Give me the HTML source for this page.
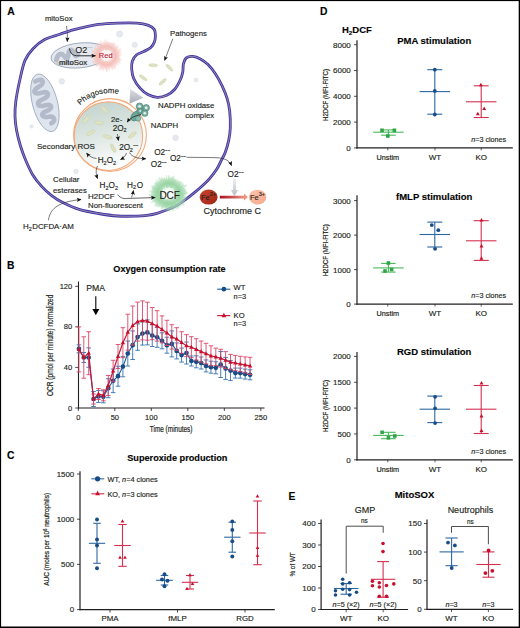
<!DOCTYPE html>
<html><head><meta charset="utf-8"><title>Figure</title>
<style>
html,body{margin:0;padding:0;background:#fff;}
svg{display:block;}
svg text{font-family:"Liberation Sans",sans-serif;stroke:#231f20;stroke-width:0.15px;}
svg text.r{stroke-width:0.2px;}
</style></head>
<body>
<svg width="520" height="628" viewBox="0 0 520 628" style="font-family:'Liberation Sans',sans-serif">
<defs>
<radialGradient id="redglow" cx="50%" cy="50%" r="50%">
 <stop offset="0" stop-color="#ffffff"/><stop offset="0.35" stop-color="#fdf4f3"/><stop offset="0.62" stop-color="#f8d0cb"/><stop offset="0.85" stop-color="#fae0dd" stop-opacity="0.55"/><stop offset="1" stop-color="#fbe3e1" stop-opacity="0"/>
</radialGradient>
<radialGradient id="greenglow" cx="50%" cy="50%" r="50%">
 <stop offset="0" stop-color="#ffffff"/><stop offset="0.3" stop-color="#f2faf3"/><stop offset="0.6" stop-color="#b9e3c0"/><stop offset="0.85" stop-color="#c8eacd" stop-opacity="0.6"/><stop offset="1" stop-color="#e0f3e3" stop-opacity="0"/>
</radialGradient>
<linearGradient id="phago" x1="0.35" y1="0" x2="0.6" y2="1">
 <stop offset="0" stop-color="#c4d4ce"/><stop offset="0.5" stop-color="#dfe8e4"/><stop offset="0.85" stop-color="#f6f9f8"/><stop offset="1" stop-color="#ffffff"/>
</linearGradient>
<linearGradient id="fe2" x1="0" y1="0" x2="1" y2="1">
 <stop offset="0" stop-color="#c8452e"/><stop offset="1" stop-color="#9e2416"/>
</linearGradient>
<linearGradient id="fe3" x1="0" y1="0" x2="1" y2="1">
 <stop offset="0" stop-color="#fbc4ad"/><stop offset="1" stop-color="#f5a88c"/>
</linearGradient>
<linearGradient id="redarrow" x1="0" y1="0" x2="1" y2="0">
 <stop offset="0" stop-color="#a8101e"/><stop offset="1" stop-color="#f7a48c"/>
</linearGradient>
<linearGradient id="grayarrow" x1="0" y1="0" x2="0" y2="1">
 <stop offset="0" stop-color="#f0f0f2"/><stop offset="1" stop-color="#b8bcc4"/>
</linearGradient>
<linearGradient id="funnel" x1="0" y1="0" x2="0" y2="1">
 <stop offset="0" stop-color="#dcdee4"/><stop offset="1" stop-color="#a9adb8"/>
</linearGradient>
<marker id="ah" viewBox="0 0 10 10" refX="9" refY="5" markerUnits="userSpaceOnUse" markerWidth="5.4" markerHeight="4.6" orient="auto-start-reverse">
 <path d="M0 0.5L10 5L0 9.5L2 5Z" fill="#111"/>
</marker>
</defs>
<rect x="0" y="0" width="520" height="628" fill="#fff"/>
<text x="7.20" y="14.80" font-size="10.3" text-anchor="start" font-weight="bold" fill="#000"  style="">A</text>
<circle cx="119.6" cy="34" r="3.1" fill="#e6e9ef" stroke="#d6dae2" stroke-width="0.5"/>
<circle cx="134.7" cy="44.8" r="2.6" fill="#e6e9ef" stroke="#d6dae2" stroke-width="0.5"/>
<circle cx="61.8" cy="81.3" r="2.8" fill="#e6e9ef" stroke="#d6dae2" stroke-width="0.5"/>
<circle cx="31.6" cy="126.5" r="1.8" fill="#e6e9ef" stroke="#d6dae2" stroke-width="0.5"/>
<circle cx="195.9" cy="80" r="2" fill="#e6e9ef" stroke="#d6dae2" stroke-width="0.5"/>
<circle cx="175.6" cy="137.8" r="2.8" fill="#e6e9ef" stroke="#d6dae2" stroke-width="0.5"/>
<circle cx="76" cy="171.5" r="2.3" fill="#e6e9ef" stroke="#d6dae2" stroke-width="0.5"/>
<g transform="translate(44.9 102.8) rotate(-14.7)"><ellipse cx="0" cy="0" rx="12.5" ry="29.6" fill="#dfe5ee" stroke="#8d9bb2" stroke-width="0.7"/><path d="M-4 -23 C5 -25 6 -19 -2 -17 C-10 -15 -9 -10 0 -10.5 C7 -11 7 -5 -1 -4 C-9 -3 -9 3 0 2.5 C7 2 7 8 -1 8.5 C-8 9 -7 14 0 14.5 C6 15 6.5 20 1 21.5" fill="none" stroke="#b3bbcb" stroke-width="4.6" stroke-linecap="round"/></g>
<g transform="translate(80 55.4) rotate(-6)"><ellipse cx="0" cy="0" rx="29" ry="12.4" fill="#e6eaf0" stroke="#7f8ea6" stroke-width="0.7"/><path d="M-24 2 C-22 -4 -18 -5 -16 -1 C-14 3 -12.5 3 -11.5 -2 C-10.5 -7 -7.5 -8 -6 -3 C-5 0 -4 1 -2 -1" fill="none" stroke="#b5bdcc" stroke-width="4.8" stroke-linecap="round"/><path d="M-23 6 L-8 6.5" fill="none" stroke="#c3c9d5" stroke-width="3.5" stroke-linecap="round"/></g>
<circle cx="106.5" cy="55.6" r="15" fill="url(#redglow)"/>
<path d="M112.59 55.64L120.16 55.70M112.73 56.07L118.76 56.52M113.13 56.36L119.58 57.11M113.38 56.84L120.39 58.10M112.26 57.09L120.90 59.33M112.51 57.39L121.74 60.15M112.57 57.87L120.57 60.87M112.50 58.15L119.99 61.33M111.02 57.87L120.70 62.74M112.06 58.84L120.28 63.64M112.18 59.42L117.93 63.30M111.18 59.18L119.38 65.44M110.43 58.99L116.05 63.84M111.58 60.32L116.73 65.11M110.33 59.69L116.26 66.03M110.18 59.95L115.95 66.77M110.56 61.06L115.49 67.69M110.13 61.24L115.41 69.44M109.16 60.22L114.42 69.36M109.50 61.71L112.92 68.67M108.65 60.58L112.73 70.06M108.43 60.82L110.76 67.12M108.49 62.29L110.03 67.49M107.84 61.26L109.43 67.94M107.74 62.02L109.53 71.24M107.38 61.77L108.22 67.68M106.86 61.25L107.52 71.53M106.49 61.61L106.49 72.09M106.30 60.75L105.94 70.29M106.03 60.97L105.30 69.38M105.65 60.84L104.54 67.63M105.24 61.08L102.85 71.50M104.89 61.13L102.56 69.11M104.46 61.55L101.75 69.49M104.14 61.38L100.36 70.63M103.98 60.89L99.96 69.37M103.85 60.54L98.74 70.05M103.27 60.77L100.12 65.82M102.96 60.64L99.55 65.49M102.58 60.49L98.83 65.18M102.53 60.01L96.43 66.79M101.98 60.15L95.71 66.47M102.72 59.06L95.41 65.76M102.14 58.96L95.37 64.18M101.88 58.83L95.33 63.42M101.64 58.66L94.08 63.42M101.46 58.38L92.96 63.09M100.99 58.30L92.76 62.34M101.46 57.67L92.06 61.55M101.42 57.37L93.32 60.20M101.48 56.96L93.52 59.12M99.99 57.04L92.86 58.63M101.22 56.38L93.13 57.56M99.76 56.24L92.53 56.93M101.26 55.86L92.13 56.32M99.89 55.56L90.73 55.51M100.95 55.25L90.90 54.62M99.95 54.72L93.07 53.80M101.00 54.63L91.17 52.88M100.97 54.27L93.01 52.35M100.94 53.89L91.07 50.86M101.79 53.89L91.23 50.07M100.15 52.72L93.79 49.83M100.44 52.40L95.00 49.53M100.76 52.19L93.62 47.94M101.85 52.51L95.23 48.11M102.37 52.55L94.71 46.91M101.41 51.37L97.12 47.79M101.91 51.16L94.90 44.36M101.89 50.60L96.61 44.86M102.25 50.69L98.14 45.94M102.68 50.56L97.83 44.15M102.69 49.87L98.32 43.32M103.71 50.86L98.44 41.92M103.52 49.75L100.33 43.50M104.01 50.06L100.07 41.30M104.14 49.45L100.72 40.52M104.60 49.23L103.06 44.07M104.91 49.06L103.62 43.72M105.44 50.16L103.76 41.49M105.73 49.70L104.49 40.24M106.06 50.51L105.42 43.08M106.37 50.46L106.09 39.22M106.78 50.44L107.27 41.36M107.03 50.00L107.79 42.08M107.50 49.51L108.70 42.16M107.66 50.06L109.06 43.31M108.24 49.41L110.21 42.40M108.17 50.51L110.76 42.60M108.99 49.53L111.71 42.92M109.23 49.98L112.59 43.06M109.36 50.33L113.73 42.27M109.87 50.17L113.92 43.64M109.96 50.61L115.13 43.18M110.08 50.98L115.02 44.60M111.14 50.53L115.73 45.50M111.21 51.01L115.94 46.40M110.41 52.11L118.18 45.17M111.83 51.42L118.74 45.99M111.81 51.90L118.43 47.29M111.71 52.28L116.63 49.13M112.22 52.40L117.15 49.65M111.17 53.32L120.84 48.60M111.16 53.66L121.07 49.53M112.81 53.38L120.68 50.60M113.17 53.82L120.61 51.84M111.47 54.57L121.63 52.46M112.85 54.60L118.83 53.66M113.34 54.97L118.72 54.48M112.62 55.31L122.21 54.85" stroke="#f09a92" stroke-width="0.45" opacity="0.5"/>
<text x="45.00" y="21.40" font-size="7.6" text-anchor="start" font-weight="normal" fill="#231f20"  style="">mitoSox</text>
<path d="M66.5 26 C67.5 32 67.5 36 67.3 41.5" fill="none" stroke="#231f20" stroke-width="0.6" marker-end="url(#ah)"/>
<path d="M69.5 48.5 C70.5 54 73 55.8 78 55.8 L95.5 55.8" fill="none" stroke="#231f20" stroke-width="0.9" marker-end="url(#ah)"/>
<text x="75.30" y="52.70" font-size="9" text-anchor="start" font-weight="normal" fill="#231f20"  style="">O2</text>
<text x="87.50" y="48.60" font-size="4.2" text-anchor="start" font-weight="normal" fill="#777"  style="">&#8722;&#8722;</text>
<text x="98.80" y="58.10" font-size="7.5" text-anchor="start" font-weight="normal" fill="#c8243c"  style="stroke:#c8243c">Red</text>
<text x="59.00" y="65.20" font-size="7.8" text-anchor="start" font-weight="normal" fill="#231f20"  style="">mitoSox</text>
<ellipse cx="153.3" cy="65.3" rx="4.5" ry="1.5" transform="rotate(3 153.3 65.3)" fill="#dde3c2" stroke="#c9d1a8" stroke-width="0.5"/>
<ellipse cx="169.4" cy="67.7" rx="4.5" ry="1.5" transform="rotate(45 169.4 67.7)" fill="#dde3c2" stroke="#c9d1a8" stroke-width="0.5"/>
<ellipse cx="143.2" cy="77.8" rx="4.5" ry="1.5" transform="rotate(35 143.2 77.8)" fill="#dde3c2" stroke="#c9d1a8" stroke-width="0.5"/>
<ellipse cx="162.7" cy="81.8" rx="4.5" ry="1.5" transform="rotate(-40 162.7 81.8)" fill="#dde3c2" stroke="#c9d1a8" stroke-width="0.5"/>
<text x="170.00" y="36.00" font-size="7.7" text-anchor="start" font-weight="normal" fill="#231f20"  style="">Pathogens</text>
<path d="M172.8 38.8 L164.6 60.4" fill="none" stroke="#231f20" stroke-width="0.6" marker-end="url(#ah)"/>
<path d="M15.00 116.00C14.88 111.23 15.00 107.50 15.80 101.50C16.60 95.50 18.27 86.85 19.80 80.00C21.33 73.15 22.80 65.60 25.00 60.40C27.20 55.20 29.73 52.27 33.00 48.80C36.27 45.33 40.10 42.03 44.60 39.60C49.10 37.17 55.77 35.67 60.00 34.20C64.23 32.73 66.80 31.78 70.00 30.80C73.20 29.82 74.45 29.37 79.20 28.30C83.95 27.23 92.08 25.27 98.50 24.40C104.92 23.53 111.30 23.32 117.70 23.10C124.10 22.88 131.77 22.72 136.90 23.10C142.03 23.48 145.62 24.35 148.50 25.40C151.38 26.45 153.05 27.73 154.20 29.40C155.35 31.07 155.37 33.28 155.40 35.40C155.43 37.52 155.17 40.08 154.40 42.10C153.63 44.12 152.57 45.93 150.80 47.50C149.03 49.07 146.20 50.25 143.80 51.50C141.40 52.75 138.30 53.42 136.40 55.00C134.50 56.58 133.18 58.67 132.40 61.00C131.62 63.33 131.48 66.08 131.70 69.00C131.92 71.92 132.35 75.35 133.70 78.50C135.05 81.65 137.43 85.22 139.80 87.90C142.17 90.58 144.98 93.03 147.90 94.60C150.82 96.17 154.17 97.18 157.30 97.30C160.43 97.42 163.78 96.65 166.70 95.30C169.62 93.95 172.55 91.75 174.80 89.20C177.05 86.65 178.87 82.87 180.20 80.00C181.53 77.13 182.27 74.67 182.80 72.00C183.33 69.33 182.80 66.37 183.40 64.00C184.00 61.63 184.85 59.07 186.40 57.80C187.95 56.53 190.37 56.22 192.70 56.40C195.03 56.58 197.85 57.53 200.40 58.90C202.95 60.27 205.45 62.05 208.00 64.60C210.55 67.15 213.37 70.68 215.70 74.20C218.03 77.72 220.10 81.67 222.00 85.70C223.90 89.73 225.82 94.17 227.10 98.40C228.38 102.63 229.17 106.17 229.70 111.10C230.23 116.03 230.47 123.12 230.30 128.00C230.13 132.88 229.53 136.35 228.70 140.40C227.87 144.45 226.53 148.97 225.30 152.30C224.07 155.63 222.77 157.52 221.30 160.40C219.83 163.28 218.42 166.62 216.50 169.60C214.58 172.58 212.20 175.57 209.80 178.30C207.40 181.03 204.67 183.60 202.10 186.00C199.53 188.40 197.12 190.47 194.40 192.70C191.68 194.93 188.70 197.32 185.80 199.40C182.90 201.48 180.13 203.47 177.00 205.20C173.87 206.93 170.33 208.45 167.00 209.80C163.67 211.15 160.33 212.38 157.00 213.30C153.67 214.22 150.35 214.83 147.00 215.30C143.65 215.77 141.78 215.98 136.90 216.10C132.02 216.22 124.10 216.43 117.70 216.00C111.30 215.57 104.92 214.60 98.50 213.50C92.08 212.40 85.23 211.27 79.20 209.40C73.17 207.53 66.88 204.60 62.30 202.30C57.72 200.00 55.07 198.17 51.70 195.60C48.33 193.03 45.30 190.43 42.10 186.90C38.90 183.37 35.22 178.80 32.50 174.40C29.78 170.00 27.80 165.23 25.80 160.50C23.80 155.77 22.05 151.07 20.50 146.00C18.95 140.93 17.42 135.10 16.50 130.10C15.58 125.10 15.12 120.77 15.00 116.00Z" fill="none" stroke="#3a38a6" stroke-width="2.8"/>
<path d="M15.00 116.00C14.88 111.23 15.00 107.50 15.80 101.50C16.60 95.50 18.27 86.85 19.80 80.00C21.33 73.15 22.80 65.60 25.00 60.40C27.20 55.20 29.73 52.27 33.00 48.80C36.27 45.33 40.10 42.03 44.60 39.60C49.10 37.17 55.77 35.67 60.00 34.20C64.23 32.73 66.80 31.78 70.00 30.80C73.20 29.82 74.45 29.37 79.20 28.30C83.95 27.23 92.08 25.27 98.50 24.40C104.92 23.53 111.30 23.32 117.70 23.10C124.10 22.88 131.77 22.72 136.90 23.10C142.03 23.48 145.62 24.35 148.50 25.40C151.38 26.45 153.05 27.73 154.20 29.40C155.35 31.07 155.37 33.28 155.40 35.40C155.43 37.52 155.17 40.08 154.40 42.10C153.63 44.12 152.57 45.93 150.80 47.50C149.03 49.07 146.20 50.25 143.80 51.50C141.40 52.75 138.30 53.42 136.40 55.00C134.50 56.58 133.18 58.67 132.40 61.00C131.62 63.33 131.48 66.08 131.70 69.00C131.92 71.92 132.35 75.35 133.70 78.50C135.05 81.65 137.43 85.22 139.80 87.90C142.17 90.58 144.98 93.03 147.90 94.60C150.82 96.17 154.17 97.18 157.30 97.30C160.43 97.42 163.78 96.65 166.70 95.30C169.62 93.95 172.55 91.75 174.80 89.20C177.05 86.65 178.87 82.87 180.20 80.00C181.53 77.13 182.27 74.67 182.80 72.00C183.33 69.33 182.80 66.37 183.40 64.00C184.00 61.63 184.85 59.07 186.40 57.80C187.95 56.53 190.37 56.22 192.70 56.40C195.03 56.58 197.85 57.53 200.40 58.90C202.95 60.27 205.45 62.05 208.00 64.60C210.55 67.15 213.37 70.68 215.70 74.20C218.03 77.72 220.10 81.67 222.00 85.70C223.90 89.73 225.82 94.17 227.10 98.40C228.38 102.63 229.17 106.17 229.70 111.10C230.23 116.03 230.47 123.12 230.30 128.00C230.13 132.88 229.53 136.35 228.70 140.40C227.87 144.45 226.53 148.97 225.30 152.30C224.07 155.63 222.77 157.52 221.30 160.40C219.83 163.28 218.42 166.62 216.50 169.60C214.58 172.58 212.20 175.57 209.80 178.30C207.40 181.03 204.67 183.60 202.10 186.00C199.53 188.40 197.12 190.47 194.40 192.70C191.68 194.93 188.70 197.32 185.80 199.40C182.90 201.48 180.13 203.47 177.00 205.20C173.87 206.93 170.33 208.45 167.00 209.80C163.67 211.15 160.33 212.38 157.00 213.30C153.67 214.22 150.35 214.83 147.00 215.30C143.65 215.77 141.78 215.98 136.90 216.10C132.02 216.22 124.10 216.43 117.70 216.00C111.30 215.57 104.92 214.60 98.50 213.50C92.08 212.40 85.23 211.27 79.20 209.40C73.17 207.53 66.88 204.60 62.30 202.30C57.72 200.00 55.07 198.17 51.70 195.60C48.33 193.03 45.30 190.43 42.10 186.90C38.90 183.37 35.22 178.80 32.50 174.40C29.78 170.00 27.80 165.23 25.80 160.50C23.80 155.77 22.05 151.07 20.50 146.00C18.95 140.93 17.42 135.10 16.50 130.10C15.58 125.10 15.12 120.77 15.00 116.00Z" fill="none" stroke="#d9a9b0" stroke-width="0.65"/>
<path d="M130.2 89.1 L143.4 97.7 L129.5 103.8 Z" fill="url(#funnel)"/>
<circle cx="108.4" cy="136.2" r="34.3" fill="url(#phago)"/>
<circle cx="110" cy="135" r="36.4" fill="none" stroke="#f3a878" stroke-width="1.05"/>
<circle cx="108.4" cy="136.2" r="34.3" fill="none" stroke="#f3a878" stroke-width="1.05"/>
<ellipse cx="104.6" cy="109.6" rx="4.75" ry="1.7" transform="rotate(50 104.6 109.6)" fill="#dde3c2" stroke="#c9d1a8" stroke-width="0.5"/>
<ellipse cx="86.2" cy="119.6" rx="4.75" ry="1.7" transform="rotate(-45 86.2 119.6)" fill="#dde3c2" stroke="#c9d1a8" stroke-width="0.5"/>
<ellipse cx="99.2" cy="122.7" rx="4.75" ry="1.7" transform="rotate(5 99.2 122.7)" fill="#dde3c2" stroke="#c9d1a8" stroke-width="0.5"/>
<ellipse cx="90.8" cy="132.7" rx="4.75" ry="1.7" transform="rotate(-30 90.8 132.7)" fill="#dde3c2" stroke="#c9d1a8" stroke-width="0.5"/>
<ellipse cx="107.7" cy="136.8" rx="4.75" ry="1.7" transform="rotate(15 107.7 136.8)" fill="#dde3c2" stroke="#c9d1a8" stroke-width="0.5"/>
<ellipse cx="132.3" cy="135" rx="4.75" ry="1.7" transform="rotate(-35 132.3 135)" fill="#dde3c2" stroke="#c9d1a8" stroke-width="0.5"/>
<ellipse cx="113.1" cy="148.1" rx="4.75" ry="1.7" transform="rotate(62 113.1 148.1)" fill="#dde3c2" stroke="#c9d1a8" stroke-width="0.5"/>
<path id="phArc" d="M80.1 105.3 A 41.8 41.8 0 0 1 131 99" fill="none"/>
<text font-size="7.8" fill="#231f20"><textPath href="#phArc">Phagosome</textPath></text>
<g><ellipse cx="135.5" cy="116" rx="3.8" ry="5.6" transform="rotate(42 135.5 116)" fill="#6fa597" stroke="#3f7d6e" stroke-width="0.6"/><circle cx="138.2" cy="118.6" r="2.6" fill="#8dbcb0" stroke="#3f7d6e" stroke-width="0.5"/><circle cx="139.6" cy="106.4" r="3.4" fill="#7bb0a3" stroke="#3f7d6e" stroke-width="0.6"/><circle cx="146.2" cy="107.8" r="3.3" fill="#7bb0a3" stroke="#3f7d6e" stroke-width="0.6"/><circle cx="140.2" cy="111" r="3.2" fill="#6fa597" stroke="#3f7d6e" stroke-width="0.6"/><circle cx="144.8" cy="113.2" r="3.2" fill="#7bb0a3" stroke="#3f7d6e" stroke-width="0.6"/><circle cx="139.6" cy="106.4" r="1.4" fill="#e6f0ee"/><circle cx="146.2" cy="107.8" r="1.4" fill="#e6f0ee"/><circle cx="144.8" cy="113.2" r="1.3" fill="#e6f0ee"/><circle cx="140.2" cy="111" r="1.1" fill="#d0e4df"/></g>
<path d="M141 114.5 C135 115.5 130 118 127.2 122" fill="none" stroke="#231f20" stroke-width="0.7" marker-end="url(#ah)"/>
<text x="158.00" y="108.40" font-size="7.8" text-anchor="start" font-weight="normal" fill="#231f20"  style="">NADPH oxidase</text>
<text x="214.20" y="118.40" font-size="7.8" text-anchor="end" font-weight="normal" fill="#231f20"  style="">complex</text>
<text x="150.80" y="128.10" font-size="7.8" text-anchor="start" font-weight="normal" fill="#231f20"  style="">NADPH</text>
<text x="111.00" y="122.20" font-size="7.8" text-anchor="start" font-weight="normal" fill="#231f20"  style="">2e-</text>
<text x="112.70" y="130.60" font-size="8.2" text-anchor="start" font-weight="normal" fill="#231f20"  style="">2O</text>
<text x="123.40" y="131.90" font-size="5.4" text-anchor="start" font-weight="normal" fill="#231f20"  style="">2</text>
<path d="M117.4 134 L118.4 140.5" fill="none" stroke="#231f20" stroke-width="0.6" marker-end="url(#ah)"/>
<text x="119.20" y="150.20" font-size="8.2" text-anchor="start" font-weight="normal" fill="#231f20"  style="">2O</text>
<text x="129.80" y="151.50" font-size="5.4" text-anchor="start" font-weight="normal" fill="#231f20"  style="">2</text>
<text x="133.20" y="146.80" font-size="4.5" text-anchor="start" font-weight="normal" fill="#231f20"  style="">&#8722;&#8722;</text>
<path d="M126.5 153 C125.5 156 123.5 158 120.5 159.5" fill="none" stroke="#231f20" stroke-width="0.6" marker-end="url(#ah)"/>
<path d="M129.5 152.5 C132 157 137 158.5 145.8 158.8" fill="none" stroke="#231f20" stroke-width="0.6" marker-end="url(#ah)"/>
<text x="97.70" y="163.30" font-size="8.2" text-anchor="start" font-weight="normal" fill="#231f20"  style="">H</text>
<text x="103.60" y="164.90" font-size="5.576" text-anchor="start" font-weight="normal" fill="#231f20"  style="">2</text>
<text x="106.72" y="163.30" font-size="8.2" text-anchor="start" font-weight="normal" fill="#231f20"  style="">O</text>
<text x="113.12" y="164.90" font-size="5.576" text-anchor="start" font-weight="normal" fill="#231f20"  style="">2</text>
<text x="37.00" y="149.20" font-size="8.0" text-anchor="start" font-weight="normal" fill="#231f20"  style="">Secondary ROS</text>
<path d="M96.5 158.5 C92 158 89 156 86.6 153" fill="none" stroke="#231f20" stroke-width="0.6" marker-end="url(#ah)"/>
<path d="M97.5 166 C95.5 170 96 174 97.5 178.5" fill="none" stroke="#231f20" stroke-width="0.6" marker-end="url(#ah)"/>
<text x="154.20" y="155.00" font-size="8.2" text-anchor="start" font-weight="normal" fill="#231f20"  style="">O2</text>
<text x="165.11" y="152.00" font-size="4.51" text-anchor="start" font-weight="normal" fill="#231f20"  style="">&#8722;&#8722;</text>
<text x="150.80" y="166.60" font-size="8.2" text-anchor="start" font-weight="normal" fill="#231f20"  style="">O2</text>
<text x="161.71" y="163.60" font-size="4.51" text-anchor="start" font-weight="normal" fill="#231f20"  style="">&#8722;&#8722;</text>
<text x="170.00" y="160.80" font-size="8.2" text-anchor="start" font-weight="normal" fill="#231f20"  style="">O2</text>
<text x="180.91" y="157.80" font-size="4.51" text-anchor="start" font-weight="normal" fill="#231f20"  style="">&#8722;&#8722;</text>
<path d="M186.5 157.3 L214 157.6 C222 157.8 229 159 231.5 165.5" fill="none" stroke="#231f20" stroke-width="0.6" marker-end="url(#ah)"/>
<text x="227.60" y="176.60" font-size="8.2" text-anchor="start" font-weight="normal" fill="#231f20"  style="">O2</text>
<text x="238.51" y="173.60" font-size="4.51" text-anchor="start" font-weight="normal" fill="#231f20"  style="">&#8722;&#8722;</text>
<path d="M233 179 L236 179 L236 190 L238.2 190 L234.5 196 L230.8 190 L233 190 Z" fill="url(#grayarrow)"/>
<ellipse cx="208.6" cy="197.1" rx="9" ry="7.5" fill="url(#fe2)"/>
<ellipse cx="257.6" cy="197.1" rx="8.8" ry="7.4" fill="url(#fe3)"/>
<path d="M219.8 195.8 L244 195.8 L244 193.8 L248 197.1 L244 200.4 L244 198.4 L219.8 198.4 Z" fill="url(#redarrow)"/>
<text x="201.00" y="200.00" font-size="7.4" text-anchor="start" font-weight="normal" fill="#231f20"  style="">Fe</text>
<text x="209.80" y="196.20" font-size="5.5" text-anchor="start" font-weight="normal" fill="#231f20"  style="">2+</text>
<text x="250.00" y="200.00" font-size="7.4" text-anchor="start" font-weight="normal" fill="#231f20"  style="">Fe</text>
<text x="258.80" y="196.20" font-size="5.5" text-anchor="start" font-weight="normal" fill="#231f20"  style="">3+</text>
<text x="203.40" y="214.40" font-size="9.0" text-anchor="start" font-weight="normal" fill="#231f20"  style="">Cytochrome C</text>
<ellipse cx="168.6" cy="193.6" rx="19" ry="17.5" fill="url(#greenglow)"/>
<path d="M175.05 193.66L187.18 193.77M176.20 193.91L185.59 194.29M176.09 194.19L183.75 194.79M174.75 194.39L183.95 195.57M176.94 195.00L184.03 196.19M176.30 195.16L188.34 197.59M175.53 195.36L188.24 198.57M176.81 195.89L184.48 198.03M174.59 195.55L184.34 198.71M174.62 195.95L185.35 200.14M175.05 196.38L184.91 200.63M174.13 196.14L183.04 200.22M174.91 196.95L183.09 201.29M174.83 197.21L182.69 201.76M175.24 197.87L181.99 202.22M174.65 197.79L184.43 204.57M173.88 197.63L184.30 205.57M174.07 197.98L183.06 205.17M174.02 198.33L179.64 203.23M174.28 199.16L181.04 205.76M173.11 198.46L180.82 206.77M173.43 199.17L179.52 206.19M173.76 200.20L178.89 206.75M172.03 198.33L179.05 208.04M173.26 200.66L178.74 208.95M172.13 199.33L177.80 208.55M172.02 199.62L175.97 206.59M171.21 198.75L176.72 209.63M171.19 199.33L175.18 208.17M170.62 199.03L174.26 208.81M171.14 201.21L174.32 210.76M170.27 199.70L172.82 209.02M170.49 201.37L173.02 211.80M169.79 199.51L171.58 208.32M169.64 200.39L171.14 210.22M169.18 199.11L170.27 209.45M169.00 200.67L169.65 212.20M168.60 200.54L168.60 210.53M168.35 199.26L167.78 211.94M167.86 201.50L166.93 211.37M167.76 200.18L166.79 207.83M167.58 199.21L166.07 207.55M167.34 199.46L165.34 208.83M167.22 198.97L164.96 207.78M166.67 199.88L164.48 207.00M165.98 200.40L163.32 207.32M166.10 199.66L162.55 208.22M165.26 200.84L160.60 210.93M165.33 199.76L161.82 206.39M165.32 199.32L160.93 207.00M165.22 198.69L160.71 205.48M164.35 199.38L159.75 205.65M165.05 198.14L158.14 206.97M163.21 199.75L156.78 207.08M164.03 198.60L158.36 204.81M163.39 198.68L155.37 206.51M163.89 197.94L154.85 206.27M162.19 198.82L154.05 205.45M162.25 198.40L156.04 203.09M162.99 197.56L156.57 202.09M163.06 197.29L155.30 202.47M161.11 197.97L153.86 202.21M160.80 197.67L150.99 202.80M162.73 196.49L154.28 200.66M162.66 196.27L152.04 201.05M160.72 196.59L152.30 199.80M160.73 196.30L154.11 198.58M160.30 196.09L150.25 199.11M161.44 195.43L153.20 197.53M161.78 195.05L149.70 197.63M161.53 194.79L151.67 196.44M160.50 194.64L152.82 195.63M162.19 194.32L148.77 195.83M162.17 193.95L149.09 194.67M160.63 193.69L151.67 193.79M162.21 193.50L153.52 193.37M160.67 193.08L150.75 192.43M161.34 192.85L148.93 191.57M162.04 192.69L152.40 191.34M161.98 192.52L150.66 190.66M161.51 192.16L153.25 190.48M161.81 191.81L151.76 189.17M160.30 191.15L152.12 188.73M161.58 191.15L151.84 187.75M163.00 191.47L152.51 187.47M163.12 191.32L150.92 186.25M161.97 190.53L151.64 185.75M162.54 190.41L153.10 185.45M161.53 189.51L155.41 185.97M163.05 190.08L154.99 184.98M162.62 189.40L154.22 183.51M161.88 188.46L155.18 183.35M163.00 188.99L155.33 182.66M163.34 188.87L155.79 182.06M162.52 187.72L155.61 181.04M162.87 187.42L157.93 182.11M163.09 187.25L156.35 179.50M164.77 188.92L158.12 180.79M164.78 188.51L159.84 181.95M164.27 187.03L158.26 177.92M164.56 187.09L159.36 178.72M164.63 186.53L159.26 176.99M164.88 186.20L161.38 179.25M165.25 185.95L161.28 176.89M166.09 187.30L162.46 178.19M166.63 187.82L163.59 178.89M167.10 188.20L164.12 177.52M167.30 188.16L164.98 178.49M167.33 186.77L166.01 179.68M167.62 185.96L166.22 175.01M167.91 187.38L167.06 179.67M168.33 187.34L167.98 179.16M168.53 185.56L168.44 175.66M168.79 187.67L169.18 175.16M169.25 186.17L169.84 179.39M169.46 186.22L170.44 177.74M169.91 185.58L171.34 176.78M169.92 187.98L172.76 175.88M170.58 185.91L172.63 177.94M170.73 186.83L174.20 175.84M170.62 188.03L174.27 177.98M170.85 188.16L174.24 179.94M171.17 188.00L175.10 179.43M172.19 186.74L175.80 179.85M171.71 188.32L176.66 179.92M171.98 188.22L176.15 181.59M172.84 187.74L177.49 181.32M173.73 187.02L177.68 181.94M173.15 188.35L179.66 180.86M173.31 188.62L180.28 181.26M174.72 187.60L180.15 182.27M174.42 188.39L181.87 181.74M173.79 189.22L179.88 184.09M173.32 189.88L183.09 182.19M173.72 189.93L180.79 184.85M175.69 189.11L183.99 183.85M174.23 190.22L182.51 185.25M174.18 190.59L183.65 185.47M176.42 189.72L186.51 184.71M174.68 190.94L186.94 185.57M175.08 191.01L182.36 188.10M175.53 191.16L185.19 187.76M175.71 191.37L182.82 189.13M174.62 191.98L185.10 189.15M174.48 192.22L184.75 189.80M176.20 192.17L186.14 190.29M176.49 192.54L187.34 191.08M175.73 192.95L185.31 192.07M175.04 193.28L187.55 192.65M174.73 193.47L188.19 193.19" stroke="#6cc07e" stroke-width="0.45" opacity="0.6"/>
<text x="159.40" y="198.70" font-size="10.0" text-anchor="start" font-weight="normal" fill="#231f20"  style="">DCF</text>
<text x="53.00" y="182.00" font-size="7.8" text-anchor="start" font-weight="normal" fill="#231f20"  style="">Cellular</text>
<text x="53.00" y="192.50" font-size="7.8" text-anchor="start" font-weight="normal" fill="#231f20"  style="">esterases</text>
<text x="99.50" y="188.10" font-size="8.2" text-anchor="start" font-weight="normal" fill="#231f20"  style="">H</text>
<text x="105.40" y="189.70" font-size="5.576" text-anchor="start" font-weight="normal" fill="#231f20"  style="">2</text>
<text x="108.52" y="188.10" font-size="8.2" text-anchor="start" font-weight="normal" fill="#231f20"  style="">O</text>
<text x="114.92" y="189.70" font-size="5.576" text-anchor="start" font-weight="normal" fill="#231f20"  style="">2</text>
<text x="127.00" y="187.50" font-size="8.2" text-anchor="start" font-weight="normal" fill="#231f20"  style="">H</text>
<text x="133.00" y="189.10" font-size="5.6" text-anchor="start" font-weight="normal" fill="#231f20"  style="">2</text>
<text x="136.80" y="187.50" font-size="8.2" text-anchor="start" font-weight="normal" fill="#231f20"  style="">O</text>
<text x="88.00" y="199.30" font-size="8.0" text-anchor="start" font-weight="normal" fill="#231f20"  style="">H2DCF</text>
<text x="88.00" y="208.20" font-size="7.8" text-anchor="start" font-weight="normal" fill="#231f20"  style="">Non-fluorescent</text>
<path d="M117.5 194.6 C121 198.5 124 199 128 198.4 L155.2 197.6" fill="none" stroke="#231f20" stroke-width="0.7" marker-end="url(#ah)"/>
<path d="M131.5 197.5 C132.5 195 133 193 133.4 190.5" fill="none" stroke="#231f20" stroke-width="0.6" marker-end="url(#ah)"/>
<path d="M48.4 220.3 C50 210 56 202 81 199.5" fill="none" stroke="#231f20" stroke-width="0.6" marker-end="url(#ah)"/>
<text x="23.00" y="229.00" font-size="7.9" text-anchor="start" font-weight="normal" fill="#231f20"  style="">H</text>
<text x="28.70" y="230.60" font-size="5.4" text-anchor="start" font-weight="normal" fill="#231f20"  style="">2</text>
<text x="32.20" y="229.00" font-size="7.9" text-anchor="start" font-weight="normal" fill="#231f20"  style="">DCFDA&#183;AM</text>
<text x="7.00" y="268.80" font-size="10.3" text-anchor="start" font-weight="bold" fill="#000"  style="">B</text>
<text x="169.50" y="272.40" font-size="9.12" text-anchor="middle" font-weight="bold" fill="#000"  style="">Oxygen consumption rate</text>
<line x1="78.50" y1="281.50" x2="78.50" y2="408.60" stroke="#231f20" stroke-width="1.1" />
<line x1="78.20" y1="408.00" x2="264.50" y2="408.00" stroke="#231f20" stroke-width="1.2" />
<line x1="75.20" y1="408.00" x2="78.60" y2="408.00" stroke="#231f20" stroke-width="0.8" />
<text x="72.20" y="410.60" font-size="7.5" text-anchor="end" font-weight="normal" fill="#231f20"  style="">0</text>
<line x1="75.20" y1="367.43" x2="78.60" y2="367.43" stroke="#231f20" stroke-width="0.8" />
<text x="72.20" y="370.03" font-size="7.5" text-anchor="end" font-weight="normal" fill="#231f20"  style="">40</text>
<line x1="75.20" y1="326.86" x2="78.60" y2="326.86" stroke="#231f20" stroke-width="0.8" />
<text x="72.20" y="329.46" font-size="7.5" text-anchor="end" font-weight="normal" fill="#231f20"  style="">80</text>
<line x1="75.20" y1="286.30" x2="78.60" y2="286.30" stroke="#231f20" stroke-width="0.8" />
<text x="72.20" y="288.90" font-size="7.5" text-anchor="end" font-weight="normal" fill="#231f20"  style="">120</text>
<line x1="78.30" y1="408.00" x2="78.30" y2="411.00" stroke="#231f20" stroke-width="0.8" />
<text x="78.30" y="419.70" font-size="7.5" text-anchor="middle" font-weight="normal" fill="#231f20"  style="">0</text>
<line x1="114.81" y1="408.00" x2="114.81" y2="411.00" stroke="#231f20" stroke-width="0.8" />
<text x="114.81" y="419.70" font-size="7.5" text-anchor="middle" font-weight="normal" fill="#231f20"  style="">50</text>
<line x1="151.32" y1="408.00" x2="151.32" y2="411.00" stroke="#231f20" stroke-width="0.8" />
<text x="151.32" y="419.70" font-size="7.5" text-anchor="middle" font-weight="normal" fill="#231f20"  style="">100</text>
<line x1="187.83" y1="408.00" x2="187.83" y2="411.00" stroke="#231f20" stroke-width="0.8" />
<text x="187.83" y="419.70" font-size="7.5" text-anchor="middle" font-weight="normal" fill="#231f20"  style="">150</text>
<line x1="224.34" y1="408.00" x2="224.34" y2="411.00" stroke="#231f20" stroke-width="0.8" />
<text x="224.34" y="419.70" font-size="7.5" text-anchor="middle" font-weight="normal" fill="#231f20"  style="">200</text>
<line x1="260.85" y1="408.00" x2="260.85" y2="411.00" stroke="#231f20" stroke-width="0.8" />
<text x="260.85" y="419.70" font-size="7.5" text-anchor="middle" font-weight="normal" fill="#231f20"  style="">250</text>
<text transform="translate(171.10 431.80) scale(0.7873 1)" class="r" font-size="8.2" text-anchor="middle" fill="#231f20">Time (minutes)</text>
<text transform="translate(53.00 345.30) rotate(-90) scale(0.7984 1)" class="r" font-size="8.2" text-anchor="middle" fill="#231f20">OCR (pmol per minute) normalized</text>
<text x="95.60" y="291.40" font-size="8.7" text-anchor="middle" font-weight="normal" fill="#231f20"  style="">PMA</text>
<line x1="95.80" y1="296.30" x2="95.80" y2="309.50" stroke="#000" stroke-width="1.1" />
<path d="M92.3 309 L99.3 309 L95.8 315.3 Z" fill="#000"/>
<line x1="78.90" y1="344.80" x2="78.90" y2="352.80" stroke="#3473b0" stroke-width="0.9" />
<line x1="76.60" y1="344.80" x2="81.20" y2="344.80" stroke="#3473b0" stroke-width="0.9" />
<line x1="76.60" y1="352.80" x2="81.20" y2="352.80" stroke="#3473b0" stroke-width="0.9" />
<line x1="83.79" y1="352.50" x2="83.79" y2="362.50" stroke="#3473b0" stroke-width="0.9" />
<line x1="81.49" y1="352.50" x2="86.09" y2="352.50" stroke="#3473b0" stroke-width="0.9" />
<line x1="81.49" y1="362.50" x2="86.09" y2="362.50" stroke="#3473b0" stroke-width="0.9" />
<line x1="88.68" y1="347.90" x2="88.68" y2="367.30" stroke="#3473b0" stroke-width="0.9" />
<line x1="86.38" y1="347.90" x2="90.98" y2="347.90" stroke="#3473b0" stroke-width="0.9" />
<line x1="86.38" y1="367.30" x2="90.98" y2="367.30" stroke="#3473b0" stroke-width="0.9" />
<line x1="93.57" y1="391.50" x2="93.57" y2="406.50" stroke="#3473b0" stroke-width="0.9" />
<line x1="91.27" y1="391.50" x2="95.87" y2="391.50" stroke="#3473b0" stroke-width="0.9" />
<line x1="91.27" y1="406.50" x2="95.87" y2="406.50" stroke="#3473b0" stroke-width="0.9" />
<line x1="98.46" y1="390.50" x2="98.46" y2="402.50" stroke="#3473b0" stroke-width="0.9" />
<line x1="96.16" y1="390.50" x2="100.76" y2="390.50" stroke="#3473b0" stroke-width="0.9" />
<line x1="96.16" y1="402.50" x2="100.76" y2="402.50" stroke="#3473b0" stroke-width="0.9" />
<line x1="103.35" y1="390.80" x2="103.35" y2="402.80" stroke="#3473b0" stroke-width="0.9" />
<line x1="101.05" y1="390.80" x2="105.65" y2="390.80" stroke="#3473b0" stroke-width="0.9" />
<line x1="101.05" y1="402.80" x2="105.65" y2="402.80" stroke="#3473b0" stroke-width="0.9" />
<line x1="108.24" y1="378.70" x2="108.24" y2="397.70" stroke="#3473b0" stroke-width="0.9" />
<line x1="105.94" y1="378.70" x2="110.54" y2="378.70" stroke="#3473b0" stroke-width="0.9" />
<line x1="105.94" y1="397.70" x2="110.54" y2="397.70" stroke="#3473b0" stroke-width="0.9" />
<line x1="113.13" y1="369.00" x2="113.13" y2="392.60" stroke="#3473b0" stroke-width="0.9" />
<line x1="110.83" y1="369.00" x2="115.43" y2="369.00" stroke="#3473b0" stroke-width="0.9" />
<line x1="110.83" y1="392.60" x2="115.43" y2="392.60" stroke="#3473b0" stroke-width="0.9" />
<line x1="118.02" y1="366.20" x2="118.02" y2="386.20" stroke="#3473b0" stroke-width="0.9" />
<line x1="115.72" y1="366.20" x2="120.32" y2="366.20" stroke="#3473b0" stroke-width="0.9" />
<line x1="115.72" y1="386.20" x2="120.32" y2="386.20" stroke="#3473b0" stroke-width="0.9" />
<line x1="122.91" y1="356.40" x2="122.91" y2="376.80" stroke="#3473b0" stroke-width="0.9" />
<line x1="120.61" y1="356.40" x2="125.21" y2="356.40" stroke="#3473b0" stroke-width="0.9" />
<line x1="120.61" y1="376.80" x2="125.21" y2="376.80" stroke="#3473b0" stroke-width="0.9" />
<line x1="127.80" y1="341.00" x2="127.80" y2="366.00" stroke="#3473b0" stroke-width="0.9" />
<line x1="125.50" y1="341.00" x2="130.10" y2="341.00" stroke="#3473b0" stroke-width="0.9" />
<line x1="125.50" y1="366.00" x2="130.10" y2="366.00" stroke="#3473b0" stroke-width="0.9" />
<line x1="132.69" y1="330.90" x2="132.69" y2="359.50" stroke="#3473b0" stroke-width="0.9" />
<line x1="130.39" y1="330.90" x2="134.99" y2="330.90" stroke="#3473b0" stroke-width="0.9" />
<line x1="130.39" y1="359.50" x2="134.99" y2="359.50" stroke="#3473b0" stroke-width="0.9" />
<line x1="137.58" y1="323.90" x2="137.58" y2="350.30" stroke="#3473b0" stroke-width="0.9" />
<line x1="135.28" y1="323.90" x2="139.88" y2="323.90" stroke="#3473b0" stroke-width="0.9" />
<line x1="135.28" y1="350.30" x2="139.88" y2="350.30" stroke="#3473b0" stroke-width="0.9" />
<line x1="142.47" y1="322.10" x2="142.47" y2="345.10" stroke="#3473b0" stroke-width="0.9" />
<line x1="140.17" y1="322.10" x2="144.77" y2="322.10" stroke="#3473b0" stroke-width="0.9" />
<line x1="140.17" y1="345.10" x2="144.77" y2="345.10" stroke="#3473b0" stroke-width="0.9" />
<line x1="147.36" y1="319.90" x2="147.36" y2="344.90" stroke="#3473b0" stroke-width="0.9" />
<line x1="145.06" y1="319.90" x2="149.66" y2="319.90" stroke="#3473b0" stroke-width="0.9" />
<line x1="145.06" y1="344.90" x2="149.66" y2="344.90" stroke="#3473b0" stroke-width="0.9" />
<line x1="152.25" y1="324.50" x2="152.25" y2="346.50" stroke="#3473b0" stroke-width="0.9" />
<line x1="149.95" y1="324.50" x2="154.55" y2="324.50" stroke="#3473b0" stroke-width="0.9" />
<line x1="149.95" y1="346.50" x2="154.55" y2="346.50" stroke="#3473b0" stroke-width="0.9" />
<line x1="157.14" y1="327.30" x2="157.14" y2="347.30" stroke="#3473b0" stroke-width="0.9" />
<line x1="154.84" y1="327.30" x2="159.44" y2="327.30" stroke="#3473b0" stroke-width="0.9" />
<line x1="154.84" y1="347.30" x2="159.44" y2="347.30" stroke="#3473b0" stroke-width="0.9" />
<line x1="162.03" y1="332.80" x2="162.03" y2="348.80" stroke="#3473b0" stroke-width="0.9" />
<line x1="159.73" y1="332.80" x2="164.33" y2="332.80" stroke="#3473b0" stroke-width="0.9" />
<line x1="159.73" y1="348.80" x2="164.33" y2="348.80" stroke="#3473b0" stroke-width="0.9" />
<line x1="166.92" y1="337.20" x2="166.92" y2="353.20" stroke="#3473b0" stroke-width="0.9" />
<line x1="164.62" y1="337.20" x2="169.22" y2="337.20" stroke="#3473b0" stroke-width="0.9" />
<line x1="164.62" y1="353.20" x2="169.22" y2="353.20" stroke="#3473b0" stroke-width="0.9" />
<line x1="171.81" y1="330.90" x2="171.81" y2="356.90" stroke="#3473b0" stroke-width="0.9" />
<line x1="169.51" y1="330.90" x2="174.11" y2="330.90" stroke="#3473b0" stroke-width="0.9" />
<line x1="169.51" y1="356.90" x2="174.11" y2="356.90" stroke="#3473b0" stroke-width="0.9" />
<line x1="176.70" y1="342.90" x2="176.70" y2="358.90" stroke="#3473b0" stroke-width="0.9" />
<line x1="174.40" y1="342.90" x2="179.00" y2="342.90" stroke="#3473b0" stroke-width="0.9" />
<line x1="174.40" y1="358.90" x2="179.00" y2="358.90" stroke="#3473b0" stroke-width="0.9" />
<line x1="181.59" y1="348.10" x2="181.59" y2="362.10" stroke="#3473b0" stroke-width="0.9" />
<line x1="179.29" y1="348.10" x2="183.89" y2="348.10" stroke="#3473b0" stroke-width="0.9" />
<line x1="179.29" y1="362.10" x2="183.89" y2="362.10" stroke="#3473b0" stroke-width="0.9" />
<line x1="186.48" y1="342.00" x2="186.48" y2="364.00" stroke="#3473b0" stroke-width="0.9" />
<line x1="184.18" y1="342.00" x2="188.78" y2="342.00" stroke="#3473b0" stroke-width="0.9" />
<line x1="184.18" y1="364.00" x2="188.78" y2="364.00" stroke="#3473b0" stroke-width="0.9" />
<line x1="191.37" y1="356.00" x2="191.37" y2="366.00" stroke="#3473b0" stroke-width="0.9" />
<line x1="189.07" y1="356.00" x2="193.67" y2="356.00" stroke="#3473b0" stroke-width="0.9" />
<line x1="189.07" y1="366.00" x2="193.67" y2="366.00" stroke="#3473b0" stroke-width="0.9" />
<line x1="196.26" y1="355.80" x2="196.26" y2="367.80" stroke="#3473b0" stroke-width="0.9" />
<line x1="193.96" y1="355.80" x2="198.56" y2="355.80" stroke="#3473b0" stroke-width="0.9" />
<line x1="193.96" y1="367.80" x2="198.56" y2="367.80" stroke="#3473b0" stroke-width="0.9" />
<line x1="201.15" y1="357.00" x2="201.15" y2="369.00" stroke="#3473b0" stroke-width="0.9" />
<line x1="198.85" y1="357.00" x2="203.45" y2="357.00" stroke="#3473b0" stroke-width="0.9" />
<line x1="198.85" y1="369.00" x2="203.45" y2="369.00" stroke="#3473b0" stroke-width="0.9" />
<line x1="206.04" y1="359.90" x2="206.04" y2="371.90" stroke="#3473b0" stroke-width="0.9" />
<line x1="203.74" y1="359.90" x2="208.34" y2="359.90" stroke="#3473b0" stroke-width="0.9" />
<line x1="203.74" y1="371.90" x2="208.34" y2="371.90" stroke="#3473b0" stroke-width="0.9" />
<line x1="210.93" y1="361.20" x2="210.93" y2="373.20" stroke="#3473b0" stroke-width="0.9" />
<line x1="208.63" y1="361.20" x2="213.23" y2="361.20" stroke="#3473b0" stroke-width="0.9" />
<line x1="208.63" y1="373.20" x2="213.23" y2="373.20" stroke="#3473b0" stroke-width="0.9" />
<line x1="215.82" y1="361.80" x2="215.82" y2="373.80" stroke="#3473b0" stroke-width="0.9" />
<line x1="213.52" y1="361.80" x2="218.12" y2="361.80" stroke="#3473b0" stroke-width="0.9" />
<line x1="213.52" y1="373.80" x2="218.12" y2="373.80" stroke="#3473b0" stroke-width="0.9" />
<line x1="220.71" y1="351.50" x2="220.71" y2="377.50" stroke="#3473b0" stroke-width="0.9" />
<line x1="218.41" y1="351.50" x2="223.01" y2="351.50" stroke="#3473b0" stroke-width="0.9" />
<line x1="218.41" y1="377.50" x2="223.01" y2="377.50" stroke="#3473b0" stroke-width="0.9" />
<line x1="225.60" y1="357.40" x2="225.60" y2="379.40" stroke="#3473b0" stroke-width="0.9" />
<line x1="223.30" y1="357.40" x2="227.90" y2="357.40" stroke="#3473b0" stroke-width="0.9" />
<line x1="223.30" y1="379.40" x2="227.90" y2="379.40" stroke="#3473b0" stroke-width="0.9" />
<line x1="230.49" y1="360.60" x2="230.49" y2="380.60" stroke="#3473b0" stroke-width="0.9" />
<line x1="228.19" y1="360.60" x2="232.79" y2="360.60" stroke="#3473b0" stroke-width="0.9" />
<line x1="228.19" y1="380.60" x2="232.79" y2="380.60" stroke="#3473b0" stroke-width="0.9" />
<line x1="235.38" y1="368.10" x2="235.38" y2="378.10" stroke="#3473b0" stroke-width="0.9" />
<line x1="233.08" y1="368.10" x2="237.68" y2="368.10" stroke="#3473b0" stroke-width="0.9" />
<line x1="233.08" y1="378.10" x2="237.68" y2="378.10" stroke="#3473b0" stroke-width="0.9" />
<line x1="240.27" y1="368.10" x2="240.27" y2="378.10" stroke="#3473b0" stroke-width="0.9" />
<line x1="237.97" y1="368.10" x2="242.57" y2="368.10" stroke="#3473b0" stroke-width="0.9" />
<line x1="237.97" y1="378.10" x2="242.57" y2="378.10" stroke="#3473b0" stroke-width="0.9" />
<line x1="245.16" y1="369.10" x2="245.16" y2="379.10" stroke="#3473b0" stroke-width="0.9" />
<line x1="242.86" y1="369.10" x2="247.46" y2="369.10" stroke="#3473b0" stroke-width="0.9" />
<line x1="242.86" y1="379.10" x2="247.46" y2="379.10" stroke="#3473b0" stroke-width="0.9" />
<line x1="250.05" y1="369.80" x2="250.05" y2="379.80" stroke="#3473b0" stroke-width="0.9" />
<line x1="247.75" y1="369.80" x2="252.35" y2="369.80" stroke="#3473b0" stroke-width="0.9" />
<line x1="247.75" y1="379.80" x2="252.35" y2="379.80" stroke="#3473b0" stroke-width="0.9" />
<polyline points="78.90,348.80 83.79,357.50 88.68,357.60 93.57,399.00 98.46,396.50 103.35,396.80 108.24,388.20 113.13,380.80 118.02,376.20 122.91,366.60 127.80,353.50 132.69,345.20 137.58,337.10 142.47,333.60 147.36,332.40 152.25,335.50 157.14,337.30 162.03,340.80 166.92,345.20 171.81,343.90 176.70,350.90 181.59,355.10 186.48,353.00 191.37,361.00 196.26,361.80 201.15,363.00 206.04,365.90 210.93,367.20 215.82,367.80 220.71,364.50 225.60,368.40 230.49,370.60 235.38,373.10 240.27,373.10 245.16,374.10 250.05,374.80" fill="none" stroke="#245a94" stroke-width="1.1"/>
<circle cx="78.90" cy="348.80" r="2.35" fill="#174c86" />
<circle cx="83.79" cy="357.50" r="2.35" fill="#174c86" />
<circle cx="88.68" cy="357.60" r="2.35" fill="#174c86" />
<circle cx="93.57" cy="399.00" r="2.35" fill="#174c86" />
<circle cx="98.46" cy="396.50" r="2.35" fill="#174c86" />
<circle cx="103.35" cy="396.80" r="2.35" fill="#174c86" />
<circle cx="108.24" cy="388.20" r="2.35" fill="#174c86" />
<circle cx="113.13" cy="380.80" r="2.35" fill="#174c86" />
<circle cx="118.02" cy="376.20" r="2.35" fill="#174c86" />
<circle cx="122.91" cy="366.60" r="2.35" fill="#174c86" />
<circle cx="127.80" cy="353.50" r="2.35" fill="#174c86" />
<circle cx="132.69" cy="345.20" r="2.35" fill="#174c86" />
<circle cx="137.58" cy="337.10" r="2.35" fill="#174c86" />
<circle cx="142.47" cy="333.60" r="2.35" fill="#174c86" />
<circle cx="147.36" cy="332.40" r="2.35" fill="#174c86" />
<circle cx="152.25" cy="335.50" r="2.35" fill="#174c86" />
<circle cx="157.14" cy="337.30" r="2.35" fill="#174c86" />
<circle cx="162.03" cy="340.80" r="2.35" fill="#174c86" />
<circle cx="166.92" cy="345.20" r="2.35" fill="#174c86" />
<circle cx="171.81" cy="343.90" r="2.35" fill="#174c86" />
<circle cx="176.70" cy="350.90" r="2.35" fill="#174c86" />
<circle cx="181.59" cy="355.10" r="2.35" fill="#174c86" />
<circle cx="186.48" cy="353.00" r="2.35" fill="#174c86" />
<circle cx="191.37" cy="361.00" r="2.35" fill="#174c86" />
<circle cx="196.26" cy="361.80" r="2.35" fill="#174c86" />
<circle cx="201.15" cy="363.00" r="2.35" fill="#174c86" />
<circle cx="206.04" cy="365.90" r="2.35" fill="#174c86" />
<circle cx="210.93" cy="367.20" r="2.35" fill="#174c86" />
<circle cx="215.82" cy="367.80" r="2.35" fill="#174c86" />
<circle cx="220.71" cy="364.50" r="2.35" fill="#174c86" />
<circle cx="225.60" cy="368.40" r="2.35" fill="#174c86" />
<circle cx="230.49" cy="370.60" r="2.35" fill="#174c86" />
<circle cx="235.38" cy="373.10" r="2.35" fill="#174c86" />
<circle cx="240.27" cy="373.10" r="2.35" fill="#174c86" />
<circle cx="245.16" cy="374.10" r="2.35" fill="#174c86" />
<circle cx="250.05" cy="374.80" r="2.35" fill="#174c86" />
<line x1="78.90" y1="326.90" x2="78.90" y2="371.90" stroke="#dc4466" stroke-width="0.9" />
<line x1="76.60" y1="326.90" x2="81.20" y2="326.90" stroke="#dc4466" stroke-width="0.9" />
<line x1="76.60" y1="371.90" x2="81.20" y2="371.90" stroke="#dc4466" stroke-width="0.9" />
<line x1="83.79" y1="336.80" x2="83.79" y2="378.20" stroke="#dc4466" stroke-width="0.9" />
<line x1="81.49" y1="336.80" x2="86.09" y2="336.80" stroke="#dc4466" stroke-width="0.9" />
<line x1="81.49" y1="378.20" x2="86.09" y2="378.20" stroke="#dc4466" stroke-width="0.9" />
<line x1="88.68" y1="331.70" x2="88.68" y2="374.70" stroke="#dc4466" stroke-width="0.9" />
<line x1="86.38" y1="331.70" x2="90.98" y2="331.70" stroke="#dc4466" stroke-width="0.9" />
<line x1="86.38" y1="374.70" x2="90.98" y2="374.70" stroke="#dc4466" stroke-width="0.9" />
<line x1="93.57" y1="394.00" x2="93.57" y2="404.00" stroke="#dc4466" stroke-width="0.9" />
<line x1="91.27" y1="394.00" x2="95.87" y2="394.00" stroke="#dc4466" stroke-width="0.9" />
<line x1="91.27" y1="404.00" x2="95.87" y2="404.00" stroke="#dc4466" stroke-width="0.9" />
<line x1="98.46" y1="388.50" x2="98.46" y2="399.50" stroke="#dc4466" stroke-width="0.9" />
<line x1="96.16" y1="388.50" x2="100.76" y2="388.50" stroke="#dc4466" stroke-width="0.9" />
<line x1="96.16" y1="399.50" x2="100.76" y2="399.50" stroke="#dc4466" stroke-width="0.9" />
<line x1="103.35" y1="389.80" x2="103.35" y2="400.80" stroke="#dc4466" stroke-width="0.9" />
<line x1="101.05" y1="389.80" x2="105.65" y2="389.80" stroke="#dc4466" stroke-width="0.9" />
<line x1="101.05" y1="400.80" x2="105.65" y2="400.80" stroke="#dc4466" stroke-width="0.9" />
<line x1="108.24" y1="375.50" x2="108.24" y2="395.50" stroke="#dc4466" stroke-width="0.9" />
<line x1="105.94" y1="375.50" x2="110.54" y2="375.50" stroke="#dc4466" stroke-width="0.9" />
<line x1="105.94" y1="395.50" x2="110.54" y2="395.50" stroke="#dc4466" stroke-width="0.9" />
<line x1="113.13" y1="360.30" x2="113.13" y2="381.70" stroke="#dc4466" stroke-width="0.9" />
<line x1="110.83" y1="360.30" x2="115.43" y2="360.30" stroke="#dc4466" stroke-width="0.9" />
<line x1="110.83" y1="381.70" x2="115.43" y2="381.70" stroke="#dc4466" stroke-width="0.9" />
<line x1="118.02" y1="344.50" x2="118.02" y2="368.50" stroke="#dc4466" stroke-width="0.9" />
<line x1="115.72" y1="344.50" x2="120.32" y2="344.50" stroke="#dc4466" stroke-width="0.9" />
<line x1="115.72" y1="368.50" x2="120.32" y2="368.50" stroke="#dc4466" stroke-width="0.9" />
<line x1="122.91" y1="327.70" x2="122.91" y2="357.70" stroke="#dc4466" stroke-width="0.9" />
<line x1="120.61" y1="327.70" x2="125.21" y2="327.70" stroke="#dc4466" stroke-width="0.9" />
<line x1="120.61" y1="357.70" x2="125.21" y2="357.70" stroke="#dc4466" stroke-width="0.9" />
<line x1="127.80" y1="314.20" x2="127.80" y2="350.20" stroke="#dc4466" stroke-width="0.9" />
<line x1="125.50" y1="314.20" x2="130.10" y2="314.20" stroke="#dc4466" stroke-width="0.9" />
<line x1="125.50" y1="350.20" x2="130.10" y2="350.20" stroke="#dc4466" stroke-width="0.9" />
<line x1="132.69" y1="306.00" x2="132.69" y2="345.00" stroke="#dc4466" stroke-width="0.9" />
<line x1="130.39" y1="306.00" x2="134.99" y2="306.00" stroke="#dc4466" stroke-width="0.9" />
<line x1="130.39" y1="345.00" x2="134.99" y2="345.00" stroke="#dc4466" stroke-width="0.9" />
<line x1="137.58" y1="302.10" x2="137.58" y2="341.10" stroke="#dc4466" stroke-width="0.9" />
<line x1="135.28" y1="302.10" x2="139.88" y2="302.10" stroke="#dc4466" stroke-width="0.9" />
<line x1="135.28" y1="341.10" x2="139.88" y2="341.10" stroke="#dc4466" stroke-width="0.9" />
<line x1="142.47" y1="300.90" x2="142.47" y2="339.90" stroke="#dc4466" stroke-width="0.9" />
<line x1="140.17" y1="300.90" x2="144.77" y2="300.90" stroke="#dc4466" stroke-width="0.9" />
<line x1="140.17" y1="339.90" x2="144.77" y2="339.90" stroke="#dc4466" stroke-width="0.9" />
<line x1="147.36" y1="302.20" x2="147.36" y2="340.20" stroke="#dc4466" stroke-width="0.9" />
<line x1="145.06" y1="302.20" x2="149.66" y2="302.20" stroke="#dc4466" stroke-width="0.9" />
<line x1="145.06" y1="340.20" x2="149.66" y2="340.20" stroke="#dc4466" stroke-width="0.9" />
<line x1="152.25" y1="307.50" x2="152.25" y2="339.70" stroke="#dc4466" stroke-width="0.9" />
<line x1="149.95" y1="307.50" x2="154.55" y2="307.50" stroke="#dc4466" stroke-width="0.9" />
<line x1="149.95" y1="339.70" x2="154.55" y2="339.70" stroke="#dc4466" stroke-width="0.9" />
<line x1="157.14" y1="310.70" x2="157.14" y2="341.10" stroke="#dc4466" stroke-width="0.9" />
<line x1="154.84" y1="310.70" x2="159.44" y2="310.70" stroke="#dc4466" stroke-width="0.9" />
<line x1="154.84" y1="341.10" x2="159.44" y2="341.10" stroke="#dc4466" stroke-width="0.9" />
<line x1="162.03" y1="315.90" x2="162.03" y2="342.90" stroke="#dc4466" stroke-width="0.9" />
<line x1="159.73" y1="315.90" x2="164.33" y2="315.90" stroke="#dc4466" stroke-width="0.9" />
<line x1="159.73" y1="342.90" x2="164.33" y2="342.90" stroke="#dc4466" stroke-width="0.9" />
<line x1="166.92" y1="320.30" x2="166.92" y2="345.50" stroke="#dc4466" stroke-width="0.9" />
<line x1="164.62" y1="320.30" x2="169.22" y2="320.30" stroke="#dc4466" stroke-width="0.9" />
<line x1="164.62" y1="345.50" x2="169.22" y2="345.50" stroke="#dc4466" stroke-width="0.9" />
<line x1="171.81" y1="324.70" x2="171.81" y2="349.10" stroke="#dc4466" stroke-width="0.9" />
<line x1="169.51" y1="324.70" x2="174.11" y2="324.70" stroke="#dc4466" stroke-width="0.9" />
<line x1="169.51" y1="349.10" x2="174.11" y2="349.10" stroke="#dc4466" stroke-width="0.9" />
<line x1="176.70" y1="327.70" x2="176.70" y2="350.30" stroke="#dc4466" stroke-width="0.9" />
<line x1="174.40" y1="327.70" x2="179.00" y2="327.70" stroke="#dc4466" stroke-width="0.9" />
<line x1="174.40" y1="350.30" x2="179.00" y2="350.30" stroke="#dc4466" stroke-width="0.9" />
<line x1="181.59" y1="331.70" x2="181.59" y2="353.30" stroke="#dc4466" stroke-width="0.9" />
<line x1="179.29" y1="331.70" x2="183.89" y2="331.70" stroke="#dc4466" stroke-width="0.9" />
<line x1="179.29" y1="353.30" x2="183.89" y2="353.30" stroke="#dc4466" stroke-width="0.9" />
<line x1="186.48" y1="334.70" x2="186.48" y2="356.70" stroke="#dc4466" stroke-width="0.9" />
<line x1="184.18" y1="334.70" x2="188.78" y2="334.70" stroke="#dc4466" stroke-width="0.9" />
<line x1="184.18" y1="356.70" x2="188.78" y2="356.70" stroke="#dc4466" stroke-width="0.9" />
<line x1="191.37" y1="336.70" x2="191.37" y2="357.70" stroke="#dc4466" stroke-width="0.9" />
<line x1="189.07" y1="336.70" x2="193.67" y2="336.70" stroke="#dc4466" stroke-width="0.9" />
<line x1="189.07" y1="357.70" x2="193.67" y2="357.70" stroke="#dc4466" stroke-width="0.9" />
<line x1="196.26" y1="338.70" x2="196.26" y2="360.10" stroke="#dc4466" stroke-width="0.9" />
<line x1="193.96" y1="338.70" x2="198.56" y2="338.70" stroke="#dc4466" stroke-width="0.9" />
<line x1="193.96" y1="360.10" x2="198.56" y2="360.10" stroke="#dc4466" stroke-width="0.9" />
<line x1="201.15" y1="341.00" x2="201.15" y2="362.20" stroke="#dc4466" stroke-width="0.9" />
<line x1="198.85" y1="341.00" x2="203.45" y2="341.00" stroke="#dc4466" stroke-width="0.9" />
<line x1="198.85" y1="362.20" x2="203.45" y2="362.20" stroke="#dc4466" stroke-width="0.9" />
<line x1="206.04" y1="343.30" x2="206.04" y2="363.90" stroke="#dc4466" stroke-width="0.9" />
<line x1="203.74" y1="343.30" x2="208.34" y2="343.30" stroke="#dc4466" stroke-width="0.9" />
<line x1="203.74" y1="363.90" x2="208.34" y2="363.90" stroke="#dc4466" stroke-width="0.9" />
<line x1="210.93" y1="345.80" x2="210.93" y2="365.80" stroke="#dc4466" stroke-width="0.9" />
<line x1="208.63" y1="345.80" x2="213.23" y2="345.80" stroke="#dc4466" stroke-width="0.9" />
<line x1="208.63" y1="365.80" x2="213.23" y2="365.80" stroke="#dc4466" stroke-width="0.9" />
<line x1="215.82" y1="348.10" x2="215.82" y2="365.70" stroke="#dc4466" stroke-width="0.9" />
<line x1="213.52" y1="348.10" x2="218.12" y2="348.10" stroke="#dc4466" stroke-width="0.9" />
<line x1="213.52" y1="365.70" x2="218.12" y2="365.70" stroke="#dc4466" stroke-width="0.9" />
<line x1="220.71" y1="349.30" x2="220.71" y2="367.10" stroke="#dc4466" stroke-width="0.9" />
<line x1="218.41" y1="349.30" x2="223.01" y2="349.30" stroke="#dc4466" stroke-width="0.9" />
<line x1="218.41" y1="367.10" x2="223.01" y2="367.10" stroke="#dc4466" stroke-width="0.9" />
<line x1="225.60" y1="351.60" x2="225.60" y2="368.60" stroke="#dc4466" stroke-width="0.9" />
<line x1="223.30" y1="351.60" x2="227.90" y2="351.60" stroke="#dc4466" stroke-width="0.9" />
<line x1="223.30" y1="368.60" x2="227.90" y2="368.60" stroke="#dc4466" stroke-width="0.9" />
<line x1="230.49" y1="354.40" x2="230.49" y2="369.80" stroke="#dc4466" stroke-width="0.9" />
<line x1="228.19" y1="354.40" x2="232.79" y2="354.40" stroke="#dc4466" stroke-width="0.9" />
<line x1="228.19" y1="369.80" x2="232.79" y2="369.80" stroke="#dc4466" stroke-width="0.9" />
<line x1="235.38" y1="355.40" x2="235.38" y2="370.60" stroke="#dc4466" stroke-width="0.9" />
<line x1="233.08" y1="355.40" x2="237.68" y2="355.40" stroke="#dc4466" stroke-width="0.9" />
<line x1="233.08" y1="370.60" x2="237.68" y2="370.60" stroke="#dc4466" stroke-width="0.9" />
<line x1="240.27" y1="356.30" x2="240.27" y2="371.70" stroke="#dc4466" stroke-width="0.9" />
<line x1="237.97" y1="356.30" x2="242.57" y2="356.30" stroke="#dc4466" stroke-width="0.9" />
<line x1="237.97" y1="371.70" x2="242.57" y2="371.70" stroke="#dc4466" stroke-width="0.9" />
<line x1="245.16" y1="356.90" x2="245.16" y2="372.90" stroke="#dc4466" stroke-width="0.9" />
<line x1="242.86" y1="356.90" x2="247.46" y2="356.90" stroke="#dc4466" stroke-width="0.9" />
<line x1="242.86" y1="372.90" x2="247.46" y2="372.90" stroke="#dc4466" stroke-width="0.9" />
<line x1="250.05" y1="357.30" x2="250.05" y2="374.50" stroke="#dc4466" stroke-width="0.9" />
<line x1="247.75" y1="357.30" x2="252.35" y2="357.30" stroke="#dc4466" stroke-width="0.9" />
<line x1="247.75" y1="374.50" x2="252.35" y2="374.50" stroke="#dc4466" stroke-width="0.9" />
<polyline points="78.90,349.40 83.79,357.50 88.68,353.20 93.57,399.00 98.46,394.00 103.35,395.30 108.24,385.50 113.13,371.00 118.02,356.50 122.91,342.70 127.80,332.20 132.69,325.50 137.58,321.60 142.47,320.40 147.36,321.20 152.25,323.60 157.14,325.90 162.03,329.40 166.92,332.90 171.81,336.90 176.70,339.00 181.59,342.50 186.48,345.70 191.37,347.20 196.26,349.40 201.15,351.60 206.04,353.60 210.93,355.80 215.82,356.90 220.71,358.20 225.60,360.10 230.49,362.10 235.38,363.00 240.27,364.00 245.16,364.90 250.05,365.90" fill="none" stroke="#c8183a" stroke-width="1.2"/>
<path d="M78.90 347.02L81.10 350.98L76.70 350.98Z" fill="#c8102e"/>
<path d="M83.79 355.12L85.99 359.08L81.59 359.08Z" fill="#c8102e"/>
<path d="M88.68 350.82L90.88 354.78L86.48 354.78Z" fill="#c8102e"/>
<path d="M93.57 396.62L95.77 400.58L91.37 400.58Z" fill="#c8102e"/>
<path d="M98.46 391.62L100.66 395.58L96.26 395.58Z" fill="#c8102e"/>
<path d="M103.35 392.92L105.55 396.88L101.15 396.88Z" fill="#c8102e"/>
<path d="M108.24 383.12L110.44 387.08L106.04 387.08Z" fill="#c8102e"/>
<path d="M113.13 368.62L115.33 372.58L110.93 372.58Z" fill="#c8102e"/>
<path d="M118.02 354.12L120.22 358.08L115.82 358.08Z" fill="#c8102e"/>
<path d="M122.91 340.32L125.11 344.28L120.71 344.28Z" fill="#c8102e"/>
<path d="M127.80 329.82L130.00 333.78L125.60 333.78Z" fill="#c8102e"/>
<path d="M132.69 323.12L134.89 327.08L130.49 327.08Z" fill="#c8102e"/>
<path d="M137.58 319.22L139.78 323.18L135.38 323.18Z" fill="#c8102e"/>
<path d="M142.47 318.02L144.67 321.98L140.27 321.98Z" fill="#c8102e"/>
<path d="M147.36 318.82L149.56 322.78L145.16 322.78Z" fill="#c8102e"/>
<path d="M152.25 321.22L154.45 325.18L150.05 325.18Z" fill="#c8102e"/>
<path d="M157.14 323.52L159.34 327.48L154.94 327.48Z" fill="#c8102e"/>
<path d="M162.03 327.02L164.23 330.98L159.83 330.98Z" fill="#c8102e"/>
<path d="M166.92 330.52L169.12 334.48L164.72 334.48Z" fill="#c8102e"/>
<path d="M171.81 334.52L174.01 338.48L169.61 338.48Z" fill="#c8102e"/>
<path d="M176.70 336.62L178.90 340.58L174.50 340.58Z" fill="#c8102e"/>
<path d="M181.59 340.12L183.79 344.08L179.39 344.08Z" fill="#c8102e"/>
<path d="M186.48 343.32L188.68 347.28L184.28 347.28Z" fill="#c8102e"/>
<path d="M191.37 344.82L193.57 348.78L189.17 348.78Z" fill="#c8102e"/>
<path d="M196.26 347.02L198.46 350.98L194.06 350.98Z" fill="#c8102e"/>
<path d="M201.15 349.22L203.35 353.18L198.95 353.18Z" fill="#c8102e"/>
<path d="M206.04 351.22L208.24 355.18L203.84 355.18Z" fill="#c8102e"/>
<path d="M210.93 353.42L213.13 357.38L208.73 357.38Z" fill="#c8102e"/>
<path d="M215.82 354.52L218.02 358.48L213.62 358.48Z" fill="#c8102e"/>
<path d="M220.71 355.82L222.91 359.78L218.51 359.78Z" fill="#c8102e"/>
<path d="M225.60 357.72L227.80 361.68L223.40 361.68Z" fill="#c8102e"/>
<path d="M230.49 359.72L232.69 363.68L228.29 363.68Z" fill="#c8102e"/>
<path d="M235.38 360.62L237.58 364.58L233.18 364.58Z" fill="#c8102e"/>
<path d="M240.27 361.62L242.47 365.58L238.07 365.58Z" fill="#c8102e"/>
<path d="M245.16 362.52L247.36 366.48L242.96 366.48Z" fill="#c8102e"/>
<path d="M250.05 363.52L252.25 367.48L247.85 367.48Z" fill="#c8102e"/>
<line x1="217.20" y1="289.20" x2="230.30" y2="289.20" stroke="#2f6aa5" stroke-width="1.2" />
<circle cx="223.90" cy="289.20" r="2.35" fill="#174c86" />
<text x="233.60" y="290.40" font-size="7.6" text-anchor="start" font-weight="normal" fill="#231f20"  style="">WT</text>
<text x="233.60" y="299.30" font-size="7.4" text-anchor="start" font-weight="normal" fill="#231f20"  style="">n=3</text>
<line x1="217.20" y1="315.60" x2="230.30" y2="315.60" stroke="#cc1f3d" stroke-width="1.2" />
<path d="M223.90 312.81L226.30 317.13L221.50 317.13Z" fill="#c8102e"/>
<text x="233.60" y="318.20" font-size="7.6" text-anchor="start" font-weight="normal" fill="#231f20"  style="">KO</text>
<text x="233.60" y="326.30" font-size="7.4" text-anchor="start" font-weight="normal" fill="#231f20"  style="">n=3</text>
<text x="7.00" y="458.80" font-size="10.3" text-anchor="start" font-weight="bold" fill="#000"  style="">C</text>
<text x="177.30" y="461.30" font-size="9.16" text-anchor="middle" font-weight="bold" fill="#000"  style="">Superoxide production</text>
<line x1="80.00" y1="471.30" x2="80.00" y2="610.20" stroke="#231f20" stroke-width="1.2" />
<line x1="79.40" y1="609.60" x2="274.80" y2="609.60" stroke="#231f20" stroke-width="1.2" />
<line x1="77.00" y1="609.60" x2="80.00" y2="609.60" stroke="#231f20" stroke-width="0.8" />
<text x="74.20" y="612.40" font-size="7.9" text-anchor="end" font-weight="normal" fill="#231f20"  style="">0</text>
<line x1="77.00" y1="564.40" x2="80.00" y2="564.40" stroke="#231f20" stroke-width="0.8" />
<text x="74.20" y="567.20" font-size="7.9" text-anchor="end" font-weight="normal" fill="#231f20"  style="">500</text>
<line x1="77.00" y1="519.20" x2="80.00" y2="519.20" stroke="#231f20" stroke-width="0.8" />
<text x="74.20" y="522.00" font-size="7.9" text-anchor="end" font-weight="normal" fill="#231f20"  style="">1000</text>
<line x1="77.00" y1="474.00" x2="80.00" y2="474.00" stroke="#231f20" stroke-width="0.8" />
<text x="74.20" y="476.80" font-size="7.9" text-anchor="end" font-weight="normal" fill="#231f20"  style="">1500</text>
<line x1="110.00" y1="609.60" x2="110.00" y2="612.60" stroke="#231f20" stroke-width="0.8" />
<text x="110.00" y="621.40" font-size="7.9" text-anchor="middle" font-weight="normal" fill="#231f20"  style="">PMA</text>
<line x1="177.50" y1="609.60" x2="177.50" y2="612.60" stroke="#231f20" stroke-width="0.8" />
<text x="177.50" y="621.40" font-size="7.9" text-anchor="middle" font-weight="normal" fill="#231f20"  style="">fMLP</text>
<line x1="245.00" y1="609.60" x2="245.00" y2="612.60" stroke="#231f20" stroke-width="0.8" />
<text x="245.00" y="621.40" font-size="7.9" text-anchor="middle" font-weight="normal" fill="#231f20"  style="">RGD</text>
<text transform="translate(49.40 539.40) rotate(-90) scale(0.8515 1)" class="r" font-size="7.6" text-anchor="middle" fill="#231f20">AUC (moles per 10<tspan dy="-2.5" font-size="5">6</tspan><tspan dy="2.5"> neutrophils)</tspan></text>
<line x1="91.30" y1="478.80" x2="104.30" y2="478.80" stroke="#3b74ad" stroke-width="1.2" />
<circle cx="97.60" cy="478.80" r="2.6" fill="#174c86" />
<text x="107.5" y="481.5" font-size="7.3" fill="#231f20">WT, <tspan font-style="italic">n</tspan>=4 clones</text>
<line x1="91.30" y1="493.80" x2="104.30" y2="493.80" stroke="#d83a5a" stroke-width="1.2" />
<path d="M97.60 490.81L100.00 495.13L95.20 495.13Z" fill="#c8102e"/>
<text x="107.5" y="496.5" font-size="7.3" fill="#231f20">KO, <tspan font-style="italic">n</tspan>=3 clones</text>
<line x1="97.00" y1="523.30" x2="97.00" y2="563.30" stroke="#2d67a2" stroke-width="1.1" />
<line x1="93.25" y1="523.30" x2="100.75" y2="523.30" stroke="#2d67a2" stroke-width="1.1" />
<line x1="93.25" y1="563.30" x2="100.75" y2="563.30" stroke="#2d67a2" stroke-width="1.1" />
<line x1="88.85" y1="543.30" x2="105.15" y2="543.30" stroke="#2d67a2" stroke-width="1.1" />
<circle cx="97.00" cy="519.50" r="1.95" fill="#174c86" />
<circle cx="97.00" cy="539.50" r="1.95" fill="#174c86" />
<circle cx="97.00" cy="545.50" r="1.95" fill="#174c86" />
<circle cx="97.00" cy="568.30" r="1.95" fill="#174c86" />
<line x1="122.50" y1="524.50" x2="122.50" y2="566.30" stroke="#d3304f" stroke-width="1.1" />
<line x1="118.25" y1="524.50" x2="126.75" y2="524.50" stroke="#d3304f" stroke-width="1.1" />
<line x1="118.25" y1="566.30" x2="126.75" y2="566.30" stroke="#d3304f" stroke-width="1.1" />
<line x1="114.25" y1="545.50" x2="130.75" y2="545.50" stroke="#d3304f" stroke-width="1.1" />
<path d="M122.50 519.36L124.30 522.60L120.70 522.60Z" fill="#c8102e"/>
<path d="M120.00 555.56L121.80 558.80L118.20 558.80Z" fill="#c8102e"/>
<path d="M125.00 555.56L126.80 558.80L123.20 558.80Z" fill="#c8102e"/>
<line x1="164.50" y1="575.50" x2="164.50" y2="585.00" stroke="#2d67a2" stroke-width="1.1" />
<line x1="160.75" y1="575.50" x2="168.25" y2="575.50" stroke="#2d67a2" stroke-width="1.1" />
<line x1="160.75" y1="585.00" x2="168.25" y2="585.00" stroke="#2d67a2" stroke-width="1.1" />
<line x1="156.15" y1="580.30" x2="172.85" y2="580.30" stroke="#2d67a2" stroke-width="1.1" />
<circle cx="164.50" cy="574.30" r="1.95" fill="#174c86" />
<circle cx="162.00" cy="579.50" r="1.95" fill="#174c86" />
<circle cx="167.50" cy="580.80" r="1.95" fill="#174c86" />
<circle cx="164.50" cy="586.30" r="1.95" fill="#174c86" />
<line x1="190.00" y1="575.50" x2="190.00" y2="589.00" stroke="#d3304f" stroke-width="1.1" />
<line x1="186.00" y1="575.50" x2="194.00" y2="575.50" stroke="#d3304f" stroke-width="1.1" />
<line x1="186.00" y1="589.00" x2="194.00" y2="589.00" stroke="#d3304f" stroke-width="1.1" />
<line x1="181.75" y1="582.30" x2="198.25" y2="582.30" stroke="#d3304f" stroke-width="1.1" />
<path d="M190.00 573.06L191.80 576.30L188.20 576.30Z" fill="#c8102e"/>
<path d="M192.50 581.86L194.30 585.10L190.70 585.10Z" fill="#c8102e"/>
<path d="M187.00 586.86L188.80 590.10L185.20 590.10Z" fill="#c8102e"/>
<line x1="232.30" y1="522.20" x2="232.30" y2="552.20" stroke="#2d67a2" stroke-width="1.1" />
<line x1="228.55" y1="522.20" x2="236.05" y2="522.20" stroke="#2d67a2" stroke-width="1.1" />
<line x1="228.55" y1="552.20" x2="236.05" y2="552.20" stroke="#2d67a2" stroke-width="1.1" />
<line x1="224.10" y1="537.20" x2="240.50" y2="537.20" stroke="#2d67a2" stroke-width="1.1" />
<circle cx="232.30" cy="521.40" r="1.95" fill="#174c86" />
<circle cx="232.30" cy="529.90" r="1.95" fill="#174c86" />
<circle cx="232.30" cy="541.20" r="1.95" fill="#174c86" />
<circle cx="232.30" cy="556.50" r="1.95" fill="#174c86" />
<line x1="257.50" y1="501.00" x2="257.50" y2="564.70" stroke="#d3304f" stroke-width="1.1" />
<line x1="253.25" y1="501.00" x2="261.75" y2="501.00" stroke="#d3304f" stroke-width="1.1" />
<line x1="253.25" y1="564.70" x2="261.75" y2="564.70" stroke="#d3304f" stroke-width="1.1" />
<line x1="249.30" y1="533.00" x2="265.70" y2="533.00" stroke="#d3304f" stroke-width="1.1" />
<path d="M257.50 494.26L259.30 497.50L255.70 497.50Z" fill="#c8102e"/>
<path d="M257.50 545.76L259.30 549.00L255.70 549.00Z" fill="#c8102e"/>
<path d="M257.50 553.46L259.30 556.70L255.70 556.70Z" fill="#c8102e"/>
<text x="320.00" y="14.80" font-size="10.3" text-anchor="start" font-weight="bold" fill="#000"  style="">D</text>
<text x="341.90" y="32.80" font-size="9.5" text-anchor="start" font-weight="bold" fill="#000"  style="">H</text>
<text x="348.80" y="34.60" font-size="6.2" text-anchor="start" font-weight="bold" fill="#000"  style="">2</text>
<text x="352.30" y="32.80" font-size="9.5" text-anchor="start" font-weight="bold" fill="#000"  style="">DCF</text>
<line x1="357.00" y1="40.20" x2="357.00" y2="148.50" stroke="#231f20" stroke-width="1.2" />
<line x1="356.40" y1="147.90" x2="512.80" y2="147.90" stroke="#231f20" stroke-width="1.2" />
<line x1="354.00" y1="147.90" x2="357.00" y2="147.90" stroke="#231f20" stroke-width="0.8" />
<text x="350.80" y="150.80" font-size="8.0" text-anchor="end" font-weight="normal" fill="#231f20"  style="">0</text>
<line x1="354.00" y1="122.10" x2="357.00" y2="122.10" stroke="#231f20" stroke-width="0.8" />
<text x="350.80" y="125.00" font-size="8.0" text-anchor="end" font-weight="normal" fill="#231f20"  style="">2000</text>
<line x1="354.00" y1="96.30" x2="357.00" y2="96.30" stroke="#231f20" stroke-width="0.8" />
<text x="350.80" y="99.20" font-size="8.0" text-anchor="end" font-weight="normal" fill="#231f20"  style="">4000</text>
<line x1="354.00" y1="70.50" x2="357.00" y2="70.50" stroke="#231f20" stroke-width="0.8" />
<text x="350.80" y="73.40" font-size="8.0" text-anchor="end" font-weight="normal" fill="#231f20"  style="">6000</text>
<line x1="354.00" y1="44.70" x2="357.00" y2="44.70" stroke="#231f20" stroke-width="0.8" />
<text x="350.80" y="47.60" font-size="8.0" text-anchor="end" font-weight="normal" fill="#231f20"  style="">8000</text>
<line x1="387.80" y1="147.90" x2="387.80" y2="150.40" stroke="#231f20" stroke-width="0.7" />
<text transform="translate(387.80 159.70) scale(0.9120 1)" class="r" font-size="8.0" text-anchor="middle" fill="#231f20">Unstim</text>
<line x1="435.00" y1="147.90" x2="435.00" y2="150.40" stroke="#231f20" stroke-width="0.7" />
<text x="435.00" y="159.70" font-size="8.0" text-anchor="middle" font-weight="normal" fill="#231f20"  style="">WT</text>
<line x1="481.20" y1="147.90" x2="481.20" y2="150.40" stroke="#231f20" stroke-width="0.7" />
<text x="481.20" y="159.70" font-size="8.0" text-anchor="middle" font-weight="normal" fill="#231f20"  style="">KO</text>
<text x="434.20" y="44.20" font-size="9.5" text-anchor="middle" font-weight="bold" fill="#000"  style="">PMA stimulation</text>
<text x="506.2" y="141.60" font-size="7.2" text-anchor="end" fill="#231f20"><tspan font-style="italic">n</tspan>=3 clones</text>
<text transform="translate(327.80 95.00) rotate(-90) scale(0.7794 1)" class="r" font-size="7.8" text-anchor="middle" fill="#231f20">H2DCF (MFI-FITC)</text>
<line x1="388.40" y1="129.90" x2="388.40" y2="135.20" stroke="#49b85a" stroke-width="1.1" />
<line x1="381.15" y1="129.90" x2="395.65" y2="129.90" stroke="#49b85a" stroke-width="1.1" />
<line x1="381.15" y1="135.20" x2="395.65" y2="135.20" stroke="#49b85a" stroke-width="1.1" />
<line x1="373.15" y1="132.20" x2="403.65" y2="132.20" stroke="#49b85a" stroke-width="1.1" />
<rect x="380.20" y="128.50" width="3.6" height="3.6" fill="#2fa545"/>
<rect x="392.60" y="128.50" width="3.6" height="3.6" fill="#2fa545"/>
<rect x="386.00" y="134.20" width="3.6" height="3.6" fill="#2fa545"/>
<line x1="434.80" y1="69.70" x2="434.80" y2="114.20" stroke="#2d67a2" stroke-width="1.1" />
<line x1="427.30" y1="69.70" x2="442.30" y2="69.70" stroke="#2d67a2" stroke-width="1.1" />
<line x1="427.30" y1="114.20" x2="442.30" y2="114.20" stroke="#2d67a2" stroke-width="1.1" />
<line x1="419.55" y1="91.60" x2="450.05" y2="91.60" stroke="#2d67a2" stroke-width="1.1" />
<circle cx="434.80" cy="69.70" r="1.9" fill="#174c86" />
<circle cx="434.80" cy="90.90" r="1.9" fill="#174c86" />
<circle cx="434.80" cy="114.50" r="1.9" fill="#174c86" />
<line x1="481.20" y1="85.80" x2="481.20" y2="117.50" stroke="#d3304f" stroke-width="1.1" />
<line x1="473.70" y1="85.80" x2="488.70" y2="85.80" stroke="#d3304f" stroke-width="1.1" />
<line x1="473.70" y1="117.50" x2="488.70" y2="117.50" stroke="#d3304f" stroke-width="1.1" />
<line x1="465.95" y1="101.80" x2="496.45" y2="101.80" stroke="#d3304f" stroke-width="1.1" />
<path d="M480.80 82.69L482.75 86.20L478.85 86.20Z" fill="#c8102e"/>
<path d="M484.20 106.39L486.15 109.90L482.25 109.90Z" fill="#c8102e"/>
<path d="M477.80 111.69L479.75 115.20L475.85 115.20Z" fill="#c8102e"/>
<line x1="357.00" y1="195.30" x2="357.00" y2="304.70" stroke="#231f20" stroke-width="1.2" />
<line x1="356.40" y1="304.10" x2="512.80" y2="304.10" stroke="#231f20" stroke-width="1.2" />
<line x1="354.00" y1="304.10" x2="357.00" y2="304.10" stroke="#231f20" stroke-width="0.8" />
<text x="350.80" y="307.00" font-size="8.0" text-anchor="end" font-weight="normal" fill="#231f20"  style="">0</text>
<line x1="354.00" y1="269.60" x2="357.00" y2="269.60" stroke="#231f20" stroke-width="0.8" />
<text x="350.80" y="272.50" font-size="8.0" text-anchor="end" font-weight="normal" fill="#231f20"  style="">1000</text>
<line x1="354.00" y1="235.10" x2="357.00" y2="235.10" stroke="#231f20" stroke-width="0.8" />
<text x="350.80" y="238.00" font-size="8.0" text-anchor="end" font-weight="normal" fill="#231f20"  style="">2000</text>
<line x1="354.00" y1="200.60" x2="357.00" y2="200.60" stroke="#231f20" stroke-width="0.8" />
<text x="350.80" y="203.50" font-size="8.0" text-anchor="end" font-weight="normal" fill="#231f20"  style="">3000</text>
<line x1="387.80" y1="304.10" x2="387.80" y2="306.60" stroke="#231f20" stroke-width="0.7" />
<text transform="translate(387.80 315.90) scale(0.9120 1)" class="r" font-size="8.0" text-anchor="middle" fill="#231f20">Unstim</text>
<line x1="435.00" y1="304.10" x2="435.00" y2="306.60" stroke="#231f20" stroke-width="0.7" />
<text x="435.00" y="315.90" font-size="8.0" text-anchor="middle" font-weight="normal" fill="#231f20"  style="">WT</text>
<line x1="481.20" y1="304.10" x2="481.20" y2="306.60" stroke="#231f20" stroke-width="0.7" />
<text x="481.20" y="315.90" font-size="8.0" text-anchor="middle" font-weight="normal" fill="#231f20"  style="">KO</text>
<text x="434.20" y="199.80" font-size="9.5" text-anchor="middle" font-weight="bold" fill="#000"  style="">fMLP stimulation</text>
<text x="506.2" y="297.80" font-size="7.2" text-anchor="end" fill="#231f20"><tspan font-style="italic">n</tspan>=3 clones</text>
<text transform="translate(327.80 250.30) rotate(-90) scale(0.7794 1)" class="r" font-size="7.8" text-anchor="middle" fill="#231f20">H2DCF (MFI-FITC)</text>
<line x1="388.40" y1="263.40" x2="388.40" y2="272.10" stroke="#49b85a" stroke-width="1.1" />
<line x1="381.15" y1="263.40" x2="395.65" y2="263.40" stroke="#49b85a" stroke-width="1.1" />
<line x1="381.15" y1="272.10" x2="395.65" y2="272.10" stroke="#49b85a" stroke-width="1.1" />
<line x1="373.15" y1="267.90" x2="403.65" y2="267.90" stroke="#49b85a" stroke-width="1.1" />
<rect x="386.60" y="261.20" width="3.6" height="3.6" fill="#2fa545"/>
<rect x="389.80" y="267.70" width="3.6" height="3.6" fill="#2fa545"/>
<rect x="383.20" y="269.20" width="3.6" height="3.6" fill="#2fa545"/>
<line x1="434.80" y1="222.10" x2="434.80" y2="247.00" stroke="#2d67a2" stroke-width="1.1" />
<line x1="427.30" y1="222.10" x2="442.30" y2="222.10" stroke="#2d67a2" stroke-width="1.1" />
<line x1="427.30" y1="247.00" x2="442.30" y2="247.00" stroke="#2d67a2" stroke-width="1.1" />
<line x1="419.55" y1="234.50" x2="450.05" y2="234.50" stroke="#2d67a2" stroke-width="1.1" />
<circle cx="431.80" cy="225.10" r="1.9" fill="#174c86" />
<circle cx="438.30" cy="230.20" r="1.9" fill="#174c86" />
<circle cx="435.10" cy="248.80" r="1.9" fill="#174c86" />
<line x1="481.20" y1="220.70" x2="481.20" y2="260.40" stroke="#d3304f" stroke-width="1.1" />
<line x1="473.70" y1="220.70" x2="488.70" y2="220.70" stroke="#d3304f" stroke-width="1.1" />
<line x1="473.70" y1="260.40" x2="488.70" y2="260.40" stroke="#d3304f" stroke-width="1.1" />
<line x1="465.95" y1="240.80" x2="496.45" y2="240.80" stroke="#d3304f" stroke-width="1.1" />
<path d="M481.50 217.89L483.45 221.40L479.55 221.40Z" fill="#c8102e"/>
<path d="M481.50 243.89L483.45 247.40L479.55 247.40Z" fill="#c8102e"/>
<path d="M481.50 256.19L483.45 259.70L479.55 259.70Z" fill="#c8102e"/>
<line x1="357.00" y1="352.00" x2="357.00" y2="460.40" stroke="#231f20" stroke-width="1.2" />
<line x1="356.40" y1="459.80" x2="512.80" y2="459.80" stroke="#231f20" stroke-width="1.2" />
<line x1="354.00" y1="459.80" x2="357.00" y2="459.80" stroke="#231f20" stroke-width="0.8" />
<text x="350.80" y="462.70" font-size="8.0" text-anchor="end" font-weight="normal" fill="#231f20"  style="">0</text>
<line x1="354.00" y1="433.95" x2="357.00" y2="433.95" stroke="#231f20" stroke-width="0.8" />
<text x="350.80" y="436.85" font-size="8.0" text-anchor="end" font-weight="normal" fill="#231f20"  style="">500</text>
<line x1="354.00" y1="408.10" x2="357.00" y2="408.10" stroke="#231f20" stroke-width="0.8" />
<text x="350.80" y="411.00" font-size="8.0" text-anchor="end" font-weight="normal" fill="#231f20"  style="">1000</text>
<line x1="354.00" y1="382.25" x2="357.00" y2="382.25" stroke="#231f20" stroke-width="0.8" />
<text x="350.80" y="385.15" font-size="8.0" text-anchor="end" font-weight="normal" fill="#231f20"  style="">1500</text>
<line x1="354.00" y1="356.40" x2="357.00" y2="356.40" stroke="#231f20" stroke-width="0.8" />
<text x="350.80" y="359.30" font-size="8.0" text-anchor="end" font-weight="normal" fill="#231f20"  style="">2000</text>
<line x1="387.80" y1="459.80" x2="387.80" y2="462.30" stroke="#231f20" stroke-width="0.7" />
<text transform="translate(387.80 471.60) scale(0.9120 1)" class="r" font-size="8.0" text-anchor="middle" fill="#231f20">Unstim</text>
<line x1="435.00" y1="459.80" x2="435.00" y2="462.30" stroke="#231f20" stroke-width="0.7" />
<text x="435.00" y="471.60" font-size="8.0" text-anchor="middle" font-weight="normal" fill="#231f20"  style="">WT</text>
<line x1="481.20" y1="459.80" x2="481.20" y2="462.30" stroke="#231f20" stroke-width="0.7" />
<text x="481.20" y="471.60" font-size="8.0" text-anchor="middle" font-weight="normal" fill="#231f20"  style="">KO</text>
<text x="434.20" y="355.40" font-size="9.5" text-anchor="middle" font-weight="bold" fill="#000"  style="">RGD stimulation</text>
<text x="506.2" y="453.50" font-size="7.2" text-anchor="end" fill="#231f20"><tspan font-style="italic">n</tspan>=3 clones</text>
<text transform="translate(327.80 406.00) rotate(-90) scale(0.7794 1)" class="r" font-size="7.8" text-anchor="middle" fill="#231f20">H2DCF (MFI-FITC)</text>
<line x1="388.40" y1="432.30" x2="388.40" y2="438.70" stroke="#49b85a" stroke-width="1.1" />
<line x1="381.15" y1="432.30" x2="395.65" y2="432.30" stroke="#49b85a" stroke-width="1.1" />
<line x1="381.15" y1="438.70" x2="395.65" y2="438.70" stroke="#49b85a" stroke-width="1.1" />
<line x1="373.15" y1="435.40" x2="403.65" y2="435.40" stroke="#49b85a" stroke-width="1.1" />
<rect x="380.30" y="430.50" width="3.6" height="3.6" fill="#2fa545"/>
<rect x="393.00" y="434.20" width="3.6" height="3.6" fill="#2fa545"/>
<rect x="386.60" y="436.00" width="3.6" height="3.6" fill="#2fa545"/>
<line x1="434.80" y1="396.10" x2="434.80" y2="422.60" stroke="#2d67a2" stroke-width="1.1" />
<line x1="427.30" y1="396.10" x2="442.30" y2="396.10" stroke="#2d67a2" stroke-width="1.1" />
<line x1="427.30" y1="422.60" x2="442.30" y2="422.60" stroke="#2d67a2" stroke-width="1.1" />
<line x1="419.55" y1="409.20" x2="450.05" y2="409.20" stroke="#2d67a2" stroke-width="1.1" />
<circle cx="435.10" cy="396.80" r="1.9" fill="#174c86" />
<circle cx="435.10" cy="408.30" r="1.9" fill="#174c86" />
<circle cx="435.10" cy="423.10" r="1.9" fill="#174c86" />
<line x1="481.20" y1="385.50" x2="481.20" y2="433.50" stroke="#d3304f" stroke-width="1.1" />
<line x1="473.70" y1="385.50" x2="488.70" y2="385.50" stroke="#d3304f" stroke-width="1.1" />
<line x1="473.70" y1="433.50" x2="488.70" y2="433.50" stroke="#d3304f" stroke-width="1.1" />
<line x1="465.95" y1="409.20" x2="496.45" y2="409.20" stroke="#d3304f" stroke-width="1.1" />
<path d="M481.50 381.09L483.45 384.60L479.55 384.60Z" fill="#c8102e"/>
<path d="M481.50 414.09L483.45 417.60L479.55 417.60Z" fill="#c8102e"/>
<path d="M481.50 428.39L483.45 431.90L479.55 431.90Z" fill="#c8102e"/>
<text x="288.60" y="500.40" font-size="10.3" text-anchor="start" font-weight="bold" fill="#000"  style="">E</text>
<text x="414.50" y="498.40" font-size="9.5" text-anchor="middle" font-weight="bold" fill="#000"  style="">MitoSOX</text>
<text x="364.90" y="512.80" font-size="9.0" text-anchor="middle" font-weight="normal" fill="#231f20"  style="">GMP</text>
<text x="470.40" y="512.80" font-size="9.0" text-anchor="middle" font-weight="normal" fill="#231f20"  style="">Neutrophils</text>
<text transform="translate(295.20 564.40) rotate(-90) scale(0.7891 1)" class="r" font-size="8" text-anchor="middle" fill="#231f20">% of WT</text>
<line x1="321.10" y1="519.50" x2="321.10" y2="610.10" stroke="#231f20" stroke-width="1.2" />
<line x1="320.50" y1="609.50" x2="408.10" y2="609.50" stroke="#231f20" stroke-width="1.2" />
<line x1="318.00" y1="609.50" x2="321.10" y2="609.50" stroke="#231f20" stroke-width="0.8" />
<text x="315.60" y="612.30" font-size="8.0" text-anchor="end" font-weight="normal" fill="#231f20"  style="">0</text>
<line x1="318.00" y1="588.00" x2="321.10" y2="588.00" stroke="#231f20" stroke-width="0.8" />
<text x="315.60" y="590.80" font-size="8.0" text-anchor="end" font-weight="normal" fill="#231f20"  style="">100</text>
<line x1="318.00" y1="566.50" x2="321.10" y2="566.50" stroke="#231f20" stroke-width="0.8" />
<text x="315.60" y="569.30" font-size="8.0" text-anchor="end" font-weight="normal" fill="#231f20"  style="">200</text>
<line x1="318.00" y1="545.00" x2="321.10" y2="545.00" stroke="#231f20" stroke-width="0.8" />
<text x="315.60" y="547.80" font-size="8.0" text-anchor="end" font-weight="normal" fill="#231f20"  style="">300</text>
<line x1="318.00" y1="523.50" x2="321.10" y2="523.50" stroke="#231f20" stroke-width="0.8" />
<text x="315.60" y="526.30" font-size="8.0" text-anchor="end" font-weight="normal" fill="#231f20"  style="">400</text>
<line x1="346.20" y1="609.50" x2="346.20" y2="612.30" stroke="#231f20" stroke-width="0.7" />
<text x="346.20" y="621.20" font-size="8.0" text-anchor="middle" font-weight="normal" fill="#231f20"  style="">WT</text>
<line x1="383.20" y1="609.50" x2="383.20" y2="612.30" stroke="#231f20" stroke-width="0.7" />
<text x="383.20" y="621.20" font-size="8.0" text-anchor="middle" font-weight="normal" fill="#231f20"  style="">KO</text>
<path d="M346.2 573.5 V526.2 H383.2 V532.7" fill="none" stroke="#3a3a3a" stroke-width="0.9"/>
<text x="364.40" y="523.30" font-size="6.4" text-anchor="middle" font-weight="normal" fill="#231f20"  style="">ns</text>
<line x1="346.20" y1="583.50" x2="346.20" y2="594.20" stroke="#2d67a2" stroke-width="1.1" />
<line x1="340.45" y1="583.50" x2="351.95" y2="583.50" stroke="#2d67a2" stroke-width="1.1" />
<line x1="340.45" y1="594.20" x2="351.95" y2="594.20" stroke="#2d67a2" stroke-width="1.1" />
<line x1="333.95" y1="588.50" x2="358.45" y2="588.50" stroke="#2d67a2" stroke-width="1.1" />
<circle cx="342.70" cy="579.20" r="1.8" fill="#174c86" />
<circle cx="342.70" cy="583.90" r="1.8" fill="#174c86" />
<circle cx="349.60" cy="582.70" r="1.8" fill="#174c86" />
<circle cx="342.70" cy="589.30" r="1.8" fill="#174c86" />
<circle cx="349.60" cy="589.60" r="1.8" fill="#174c86" />
<circle cx="335.50" cy="590.70" r="1.8" fill="#174c86" />
<circle cx="335.50" cy="595.00" r="1.8" fill="#174c86" />
<circle cx="349.60" cy="595.00" r="1.8" fill="#174c86" />
<circle cx="356.50" cy="592.20" r="1.8" fill="#174c86" />
<line x1="383.10" y1="561.60" x2="383.10" y2="597.30" stroke="#d3304f" stroke-width="1.1" />
<line x1="377.20" y1="561.60" x2="389.00" y2="561.60" stroke="#d3304f" stroke-width="1.1" />
<line x1="377.20" y1="597.30" x2="389.00" y2="597.30" stroke="#d3304f" stroke-width="1.1" />
<line x1="370.85" y1="579.30" x2="395.35" y2="579.30" stroke="#d3304f" stroke-width="1.1" />
<circle cx="383.00" cy="543.50" r="1.8" fill="#c8102e" />
<circle cx="383.00" cy="551.60" r="1.8" fill="#c8102e" />
<circle cx="372.40" cy="581.20" r="1.8" fill="#c8102e" />
<circle cx="372.40" cy="585.80" r="1.8" fill="#c8102e" />
<circle cx="379.30" cy="582.70" r="1.8" fill="#c8102e" />
<circle cx="379.30" cy="587.00" r="1.8" fill="#c8102e" />
<circle cx="386.50" cy="585.50" r="1.8" fill="#c8102e" />
<circle cx="393.80" cy="583.90" r="1.8" fill="#c8102e" />
<circle cx="379.30" cy="596.20" r="1.8" fill="#c8102e" />
<circle cx="386.50" cy="596.20" r="1.8" fill="#c8102e" />
<text x="346.1" y="606.9" font-size="7.2" text-anchor="middle" fill="#231f20"><tspan font-style="italic">n</tspan>=5 (&#215;2)</text>
<text x="383" y="606.9" font-size="7.2" text-anchor="middle" fill="#231f20"><tspan font-style="italic">n</tspan>=5 (&#215;2)</text>
<line x1="427.00" y1="519.50" x2="427.00" y2="609.90" stroke="#231f20" stroke-width="1.2" />
<line x1="426.40" y1="609.30" x2="513.10" y2="609.30" stroke="#231f20" stroke-width="1.2" />
<line x1="424.00" y1="609.30" x2="427.00" y2="609.30" stroke="#231f20" stroke-width="0.8" />
<text x="421.60" y="612.10" font-size="8.0" text-anchor="end" font-weight="normal" fill="#231f20"  style="">0</text>
<line x1="424.00" y1="580.70" x2="427.00" y2="580.70" stroke="#231f20" stroke-width="0.8" />
<text x="421.60" y="583.50" font-size="8.0" text-anchor="end" font-weight="normal" fill="#231f20"  style="">50</text>
<line x1="424.00" y1="552.10" x2="427.00" y2="552.10" stroke="#231f20" stroke-width="0.8" />
<text x="421.60" y="554.90" font-size="8.0" text-anchor="end" font-weight="normal" fill="#231f20"  style="">100</text>
<line x1="424.00" y1="523.50" x2="427.00" y2="523.50" stroke="#231f20" stroke-width="0.8" />
<text x="421.60" y="526.30" font-size="8.0" text-anchor="end" font-weight="normal" fill="#231f20"  style="">150</text>
<line x1="451.50" y1="609.30" x2="451.50" y2="612.10" stroke="#231f20" stroke-width="0.7" />
<text x="451.50" y="621.20" font-size="8.0" text-anchor="middle" font-weight="normal" fill="#231f20"  style="">WT</text>
<line x1="488.40" y1="609.30" x2="488.40" y2="612.10" stroke="#231f20" stroke-width="0.7" />
<text x="488.40" y="621.20" font-size="8.0" text-anchor="middle" font-weight="normal" fill="#231f20"  style="">KO</text>
<path d="M451.5 532.7 V526.5 H488.4 V544.2" fill="none" stroke="#3a3a3a" stroke-width="0.9"/>
<text x="470.40" y="523.70" font-size="6.4" text-anchor="middle" font-weight="normal" fill="#231f20"  style="">ns</text>
<line x1="451.60" y1="538.00" x2="451.60" y2="565.70" stroke="#2d67a2" stroke-width="1.1" />
<line x1="445.50" y1="538.00" x2="457.70" y2="538.00" stroke="#2d67a2" stroke-width="1.1" />
<line x1="445.50" y1="565.70" x2="457.70" y2="565.70" stroke="#2d67a2" stroke-width="1.1" />
<line x1="439.50" y1="551.90" x2="463.70" y2="551.90" stroke="#2d67a2" stroke-width="1.1" />
<circle cx="448.00" cy="542.60" r="1.9" fill="#174c86" />
<circle cx="454.90" cy="545.40" r="1.9" fill="#174c86" />
<circle cx="451.70" cy="568.00" r="1.9" fill="#174c86" />
<line x1="488.50" y1="551.90" x2="488.50" y2="577.20" stroke="#d3304f" stroke-width="1.1" />
<line x1="482.50" y1="551.90" x2="494.50" y2="551.90" stroke="#d3304f" stroke-width="1.1" />
<line x1="482.50" y1="577.20" x2="494.50" y2="577.20" stroke="#d3304f" stroke-width="1.1" />
<line x1="476.35" y1="564.50" x2="500.65" y2="564.50" stroke="#d3304f" stroke-width="1.1" />
<circle cx="488.60" cy="550.50" r="1.9" fill="#c8102e" />
<circle cx="485.40" cy="573.10" r="1.9" fill="#c8102e" />
<circle cx="492.30" cy="570.80" r="1.9" fill="#c8102e" />
<text x="451.5" y="606.7" font-size="7.2" text-anchor="middle" fill="#231f20"><tspan font-style="italic">n</tspan>=3</text>
<text x="488.4" y="606.7" font-size="7.2" text-anchor="middle" fill="#231f20"><tspan font-style="italic">n</tspan>=3</text>
<rect x="0" y="0" width="520" height="1.1" fill="#000"/>
<rect x="0" y="0" width="1.1" height="628" fill="#000"/>
<rect x="518.7" y="0" width="1.3" height="628" fill="#000"/>
<rect x="0" y="626.5" width="520" height="1.5" fill="#000"/>
</svg>
</body></html>
